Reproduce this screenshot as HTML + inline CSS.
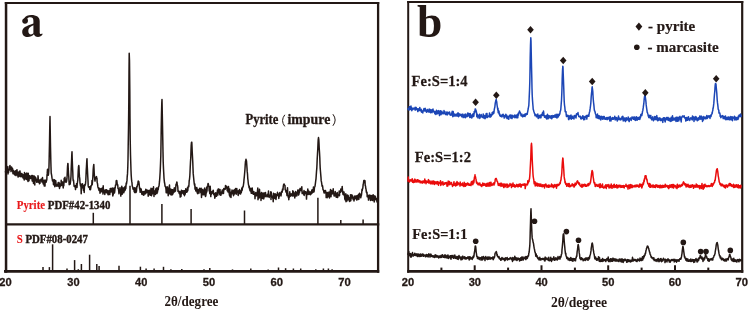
<!DOCTYPE html>
<html><head><meta charset="utf-8"><style>
html,body{margin:0;padding:0;background:#fff;width:748px;height:310px;overflow:hidden;}
svg{display:block;will-change:transform;}
</style></head><body>
<svg width="748" height="310" viewBox="0 0 748 310"><g stroke="#231815" fill="none" stroke-linecap="square"><path d="M6.05,2.1 V272.75" stroke-width="2.5" stroke-linecap="butt"/><path d="M4.8,3.1 H379.25" stroke-width="2.0" stroke-linecap="butt"/><path d="M378.1,2.1 V272.75" stroke-width="2.3" stroke-linecap="butt"/><path d="M4.0,271.4 H379.25" stroke-width="2.7" stroke-linecap="butt"/><line x1="6.3" y1="224.3" x2="378.2" y2="224.3" stroke-width="2.2"/><path d="M408.2,1 V272.7" stroke-width="2.0" stroke-linecap="butt"/><path d="M407.2,2.0 H743.3" stroke-width="2.0" stroke-linecap="butt"/><path d="M742.2,1 V272.7" stroke-width="2.2" stroke-linecap="butt"/><path d="M407.2,271.4 H743.3" stroke-width="2.6" stroke-linecap="butt"/></g><g stroke="#231815" stroke-width="2"><line x1="441.4" y1="267.6" x2="441.4" y2="271"/><line x1="474.7" y1="265.3" x2="474.7" y2="271"/><line x1="508.1" y1="267.6" x2="508.1" y2="271"/><line x1="541.5" y1="265.3" x2="541.5" y2="271"/><line x1="574.9" y1="267.6" x2="574.9" y2="271"/><line x1="608.2" y1="265.3" x2="608.2" y2="271"/><line x1="641.6" y1="267.6" x2="641.6" y2="271"/><line x1="675.0" y1="265.3" x2="675.0" y2="271"/><line x1="708.3" y1="267.6" x2="708.3" y2="271"/></g><g stroke="#231815" stroke-width="1.5"><line x1="93.3" y1="212.8" x2="93.3" y2="224"/><line x1="130.0" y1="185.7" x2="130.0" y2="224"/><line x1="161.9" y1="204.1" x2="161.9" y2="224"/><line x1="191.1" y1="209" x2="191.1" y2="224"/><line x1="244.5" y1="210.5" x2="244.5" y2="224"/><line x1="317.9" y1="197.7" x2="317.9" y2="224"/><line x1="340.8" y1="220" x2="340.8" y2="224"/><line x1="363.1" y1="219.4" x2="363.1" y2="224"/><line x1="43" y1="267.1" x2="43" y2="270.5"/><line x1="49.4" y1="267.1" x2="49.4" y2="270.5"/><line x1="52.6" y1="244.3" x2="52.6" y2="270.5"/><line x1="67" y1="268.4" x2="67" y2="270.5"/><line x1="74.6" y1="260.1" x2="74.6" y2="270.5"/><line x1="78.3" y1="269.2" x2="78.3" y2="270.5"/><line x1="81.4" y1="264" x2="81.4" y2="270.5"/><line x1="89.6" y1="254.7" x2="89.6" y2="270.5"/><line x1="96.8" y1="264" x2="96.8" y2="270.5"/><line x1="99.1" y1="266" x2="99.1" y2="270.5"/><line x1="119" y1="265.7" x2="119" y2="270.5"/><line x1="140.4" y1="266.7" x2="140.4" y2="270.5"/><line x1="146.1" y1="268.4" x2="146.1" y2="270.5"/><line x1="154.1" y1="268.4" x2="154.1" y2="270.5"/><line x1="163.5" y1="266.8" x2="163.5" y2="270.5"/><line x1="170.9" y1="269.2" x2="170.9" y2="270.5"/><line x1="181.8" y1="269" x2="181.8" y2="270.5"/><line x1="204" y1="269.2" x2="204" y2="270.5"/><line x1="209.8" y1="268" x2="209.8" y2="270.5"/><line x1="232.5" y1="269.4" x2="232.5" y2="270.5"/><line x1="250.8" y1="268.4" x2="250.8" y2="270.5"/><line x1="268.2" y1="269.4" x2="268.2" y2="270.5"/><line x1="278.5" y1="267.5" x2="278.5" y2="270.5"/><line x1="285.6" y1="268.2" x2="285.6" y2="270.5"/><line x1="293.4" y1="268.5" x2="293.4" y2="270.5"/><line x1="300.7" y1="268.5" x2="300.7" y2="270.5"/><line x1="315.8" y1="269.2" x2="315.8" y2="270.5"/><line x1="323.4" y1="268.5" x2="323.4" y2="270.5"/><line x1="328.4" y1="268.5" x2="328.4" y2="270.5"/><line x1="332.1" y1="269.3" x2="332.1" y2="270.5"/></g><polyline points="5.5,171.0 5.8,173.9 6.0,173.6 6.2,169.7 6.5,170.1 6.8,169.6 7.0,172.0 7.2,170.6 7.5,172.3 7.8,166.6 8.0,174.0 8.2,170.3 8.5,172.6 8.8,170.0 9.0,169.2 9.2,170.3 9.5,169.4 9.8,165.7 10.0,165.5 10.2,168.9 10.5,167.7 10.8,167.1 11.0,171.6 11.2,169.5 11.5,166.9 11.8,169.5 12.0,170.4 12.2,168.9 12.5,168.4 12.8,171.8 13.0,173.8 13.2,171.5 13.5,170.5 13.8,173.0 14.0,173.9 14.2,171.8 14.5,173.7 14.8,174.9 15.0,172.3 15.2,171.1 15.5,173.7 15.8,173.6 16.0,175.6 16.2,170.4 16.5,171.9 16.8,171.6 17.0,169.8 17.2,174.0 17.5,174.9 17.8,172.3 18.0,177.0 18.2,175.9 18.5,175.6 18.8,175.2 19.0,176.5 19.2,171.6 19.5,176.0 19.8,176.1 20.0,170.9 20.2,175.6 20.5,174.4 20.8,176.7 21.0,173.6 21.2,175.1 21.5,176.0 21.8,173.4 22.0,176.7 22.2,175.2 22.5,176.6 22.8,174.4 23.0,178.0 23.2,177.0 23.5,175.2 23.8,177.2 24.0,178.7 24.2,179.9 24.5,172.6 24.8,178.0 25.0,177.2 25.2,176.0 25.5,174.1 25.8,179.1 26.0,173.7 26.2,177.7 26.5,179.4 26.8,173.1 27.0,176.0 27.2,173.9 27.5,177.4 27.8,180.2 28.0,181.4 28.2,173.2 28.5,175.9 28.8,178.7 29.0,180.7 29.2,178.2 29.5,175.8 29.8,178.1 30.0,177.5 30.2,177.2 30.5,176.1 30.8,178.6 31.0,178.6 31.2,177.8 31.5,177.6 31.8,175.4 32.0,177.2 32.2,181.0 32.5,178.0 32.8,175.4 33.0,181.5 33.2,179.9 33.5,183.4 33.8,179.0 34.0,178.0 34.2,175.9 34.5,182.1 34.8,184.9 35.0,176.7 35.2,178.0 35.5,180.8 35.8,177.8 36.0,179.1 36.2,179.0 36.5,180.3 36.8,182.3 37.0,180.1 37.2,182.1 37.5,179.3 37.8,181.0 38.0,175.8 38.2,177.3 38.5,182.3 38.8,179.4 39.0,182.0 39.2,182.0 39.5,183.8 39.8,182.7 40.0,183.3 40.2,180.9 40.5,179.7 40.8,179.7 41.0,180.3 41.2,178.9 41.5,180.2 41.8,181.3 42.0,182.0 42.2,180.8 42.5,177.5 42.8,181.5 43.0,182.1 43.2,184.0 43.5,182.9 43.8,180.4 44.0,180.2 44.2,185.9 44.5,183.3 44.8,185.5 45.0,186.0 45.2,180.0 45.5,182.3 45.8,182.3 46.0,182.3 46.2,181.9 46.5,180.8 46.8,179.8 47.0,175.3 47.2,173.4 47.5,169.3 47.8,171.1 48.0,173.2 48.2,175.3 48.5,174.3 48.8,170.9 49.0,165.9 49.2,157.3 49.5,143.0 49.8,125.3 50.0,116.5 50.2,129.0 50.5,146.7 50.8,160.0 51.0,166.9 51.2,173.0 51.5,174.5 51.8,176.3 52.0,178.2 52.2,178.7 52.5,180.9 52.8,179.9 53.0,179.5 53.2,180.2 53.5,184.7 53.8,182.5 54.0,180.3 54.2,182.9 54.5,179.8 54.8,186.8 55.0,180.2 55.2,184.4 55.5,184.7 55.8,180.7 56.0,184.4 56.2,186.0 56.5,185.0 56.8,184.6 57.0,186.2 57.2,184.6 57.5,185.0 57.8,184.1 58.0,185.8 58.2,182.5 58.5,186.3 58.8,183.6 59.0,182.4 59.2,186.0 59.5,188.4 59.8,187.0 60.0,183.9 60.2,186.5 60.5,184.1 60.8,184.8 61.0,185.3 61.2,180.2 61.5,185.5 61.8,182.9 62.0,183.6 62.2,182.0 62.5,181.9 62.8,182.1 63.0,186.5 63.2,188.0 63.5,184.3 63.8,185.8 64.0,182.3 64.2,178.3 64.5,179.3 64.8,177.8 65.0,177.3 65.2,179.9 65.5,182.1 65.8,181.0 66.0,180.3 66.2,182.3 66.5,181.5 66.8,179.8 67.0,178.2 67.2,174.0 67.5,167.4 67.8,163.5 68.0,163.6 68.2,167.9 68.5,173.6 68.8,177.0 69.0,181.1 69.2,184.7 69.5,183.9 69.8,181.9 70.0,183.8 70.2,184.2 70.5,181.7 70.8,178.6 71.0,176.3 71.2,169.0 71.5,162.2 71.8,154.5 72.0,151.7 72.2,158.4 72.5,166.2 72.8,172.5 73.0,178.6 73.2,180.7 73.5,180.2 73.8,183.0 74.0,185.3 74.2,186.5 74.5,185.9 74.8,185.9 75.0,186.9 75.2,185.7 75.5,189.6 75.8,186.5 76.0,186.7 76.2,187.0 76.5,183.8 76.8,184.2 77.0,187.5 77.2,184.5 77.5,182.0 77.8,180.2 78.0,175.9 78.2,171.6 78.5,166.7 78.8,165.5 79.0,167.0 79.2,173.3 79.5,176.9 79.8,179.0 80.0,182.8 80.2,184.0 80.5,185.8 80.8,184.0 81.0,187.3 81.2,193.7 81.5,184.5 81.8,187.8 82.0,186.6 82.2,187.7 82.5,183.8 82.8,185.1 83.0,188.3 83.2,187.3 83.5,190.5 83.8,185.8 84.0,187.4 84.2,192.4 84.5,185.2 84.8,184.5 85.0,185.5 85.2,184.5 85.5,184.1 85.8,180.4 86.0,175.9 86.2,170.9 86.5,166.0 86.8,160.6 87.0,158.7 87.2,165.2 87.5,171.1 87.8,177.3 88.0,180.6 88.2,185.9 88.5,187.0 88.8,187.3 89.0,186.7 89.2,186.7 89.5,187.6 89.8,189.6 90.0,188.3 90.2,186.6 90.5,189.7 90.8,187.6 91.0,186.9 91.2,185.4 91.5,185.4 91.8,184.8 92.0,180.6 92.2,184.7 92.5,181.6 92.8,177.8 93.0,174.4 93.2,169.6 93.5,166.3 93.8,164.4 94.0,168.3 94.2,172.7 94.5,176.9 94.8,179.7 95.0,181.1 95.2,179.2 95.5,177.9 95.8,178.6 96.0,177.0 96.2,176.8 96.5,176.6 96.8,178.3 97.0,179.1 97.2,182.8 97.5,183.6 97.8,186.2 98.0,187.5 98.2,187.4 98.5,188.8 98.8,188.6 99.0,190.4 99.2,190.2 99.5,188.3 99.8,188.4 100.0,193.3 100.2,189.7 100.5,192.0 100.8,190.9 101.0,189.0 101.2,188.7 101.5,190.6 101.8,191.0 102.0,191.8 102.2,187.9 102.5,189.4 102.8,190.4 103.0,194.1 103.2,185.8 103.5,191.8 103.8,189.8 104.0,191.9 104.2,190.0 104.5,191.8 104.8,194.4 105.0,191.9 105.2,192.1 105.5,192.0 105.8,189.7 106.0,192.5 106.2,190.9 106.5,189.7 106.8,191.4 107.0,191.0 107.2,193.1 107.5,191.4 107.8,190.4 108.0,194.6 108.2,194.7 108.5,194.3 108.8,192.9 109.0,191.4 109.2,190.7 109.5,191.0 109.8,194.6 110.0,191.9 110.2,188.5 110.5,191.5 110.8,188.6 111.0,192.0 111.2,189.1 111.5,188.9 111.8,191.8 112.0,191.4 112.2,188.1 112.5,193.0 112.8,195.9 113.0,188.3 113.2,195.0 113.5,189.8 113.8,190.1 114.0,190.6 114.2,187.9 114.5,192.9 114.8,190.9 115.0,188.0 115.2,188.0 115.5,185.0 115.8,185.3 116.0,184.9 116.2,180.8 116.5,180.5 116.8,180.5 117.0,182.3 117.2,184.1 117.5,184.3 117.8,185.5 118.0,188.5 118.2,188.3 118.5,189.1 118.8,192.2 119.0,193.8 119.2,191.3 119.5,190.6 119.8,192.2 120.0,187.5 120.2,191.2 120.5,189.2 120.8,196.1 121.0,192.8 121.2,191.6 121.5,190.9 121.8,186.3 122.0,192.6 122.2,194.3 122.5,189.6 122.8,192.3 123.0,192.2 123.2,187.8 123.5,192.3 123.8,192.8 124.0,190.6 124.2,189.8 124.5,191.0 124.8,186.7 125.0,189.1 125.2,190.1 125.5,186.0 125.8,188.6 126.0,185.8 126.2,183.0 126.5,183.9 126.8,181.7 127.0,180.4 127.2,176.7 127.5,173.9 127.8,167.0 128.0,159.4 128.2,146.3 128.5,127.9 128.8,102.8 129.0,72.4 129.2,53.2 129.5,61.0 129.8,90.1 130.0,118.4 130.2,139.4 130.5,154.7 130.8,163.9 131.0,170.6 131.2,175.3 131.5,179.3 131.8,181.7 132.0,182.8 132.2,185.6 132.5,186.9 132.8,187.1 133.0,189.1 133.2,187.8 133.5,188.5 133.8,189.9 134.0,189.4 134.2,191.7 134.5,187.8 134.8,192.6 135.0,188.8 135.2,190.0 135.5,187.9 135.8,191.4 136.0,192.5 136.2,191.9 136.5,191.0 136.8,186.6 137.0,187.0 137.2,186.4 137.5,184.5 137.8,184.8 138.0,182.2 138.2,181.0 138.5,181.3 138.8,181.5 139.0,183.1 139.2,184.7 139.5,188.0 139.8,189.2 140.0,190.7 140.2,192.3 140.5,188.4 140.8,190.3 141.0,191.9 141.2,189.1 141.5,190.9 141.8,194.1 142.0,194.4 142.2,194.4 142.5,192.4 142.8,191.7 143.0,194.6 143.2,191.7 143.5,193.2 143.8,195.3 144.0,191.8 144.2,191.3 144.5,192.6 144.8,193.9 145.0,193.6 145.2,193.0 145.5,193.8 145.8,189.3 146.0,190.9 146.2,193.0 146.5,190.8 146.8,189.9 147.0,190.2 147.2,190.8 147.5,192.3 147.8,190.6 148.0,193.2 148.2,196.2 148.5,192.4 148.8,195.3 149.0,193.3 149.2,190.3 149.5,192.1 149.8,190.6 150.0,194.2 150.2,190.2 150.5,195.3 150.8,193.7 151.0,188.3 151.2,194.1 151.5,195.7 151.8,190.8 152.0,194.4 152.2,188.7 152.5,192.8 152.8,188.9 153.0,193.2 153.2,188.6 153.5,186.8 153.8,192.8 154.0,196.5 154.2,190.7 154.5,193.4 154.8,191.9 155.0,191.0 155.2,192.6 155.5,194.4 155.8,188.8 156.0,192.0 156.2,191.4 156.5,188.0 156.8,193.2 157.0,193.4 157.2,188.1 157.5,192.1 157.8,188.9 158.0,188.0 158.2,189.7 158.5,187.1 158.8,186.2 159.0,186.2 159.2,184.2 159.5,181.7 159.8,177.9 160.0,174.5 160.2,171.4 160.5,164.0 160.8,156.0 161.0,143.9 161.2,129.9 161.5,113.4 161.8,102.8 162.0,99.4 162.2,109.5 162.5,124.8 162.8,140.8 163.0,151.9 163.2,162.0 163.5,168.9 163.8,174.3 164.0,178.0 164.2,180.2 164.5,182.8 164.8,183.9 165.0,186.0 165.2,186.4 165.5,186.5 165.8,188.0 166.0,189.5 166.2,192.7 166.5,188.7 166.8,190.4 167.0,192.7 167.2,186.7 167.5,187.5 167.8,188.7 168.0,190.8 168.2,195.8 168.5,192.1 168.8,193.8 169.0,191.1 169.2,186.9 169.5,185.0 169.8,193.8 170.0,192.2 170.2,189.4 170.5,194.2 170.8,189.0 171.0,194.3 171.2,195.0 171.5,190.6 171.8,189.9 172.0,193.8 172.2,190.0 172.5,194.7 172.8,189.7 173.0,193.7 173.2,192.2 173.5,191.1 173.8,190.1 174.0,192.2 174.2,188.0 174.5,190.8 174.8,190.2 175.0,191.5 175.2,187.5 175.5,191.0 175.8,186.7 176.0,184.2 176.2,184.9 176.5,183.6 176.8,182.1 177.0,182.3 177.2,184.5 177.5,185.4 177.8,187.3 178.0,191.4 178.2,190.7 178.5,191.0 178.8,191.9 179.0,191.5 179.2,193.4 179.5,193.7 179.8,191.4 180.0,192.4 180.2,197.1 180.5,193.1 180.8,192.0 181.0,196.5 181.2,192.4 181.5,190.2 181.8,193.7 182.0,190.6 182.2,191.4 182.5,193.0 182.8,192.1 183.0,190.8 183.2,191.2 183.5,191.0 183.8,194.4 184.0,190.7 184.2,190.9 184.5,195.8 184.8,190.7 185.0,194.5 185.2,194.0 185.5,191.1 185.8,188.7 186.0,191.9 186.2,192.0 186.5,192.3 186.8,190.4 187.0,192.0 187.2,191.8 187.5,187.5 187.8,190.7 188.0,188.2 188.2,186.5 188.5,185.9 188.8,186.8 189.0,184.2 189.2,180.6 189.5,179.3 189.8,176.2 190.0,172.5 190.2,167.8 190.5,161.9 190.8,157.2 191.0,150.2 191.2,145.3 191.5,142.2 191.8,142.3 192.0,146.4 192.2,151.5 192.5,157.0 192.8,162.8 193.0,168.2 193.2,173.4 193.5,176.5 193.8,179.5 194.0,181.5 194.2,183.3 194.5,185.1 194.8,184.0 195.0,189.1 195.2,186.7 195.5,187.6 195.8,191.0 196.0,189.8 196.2,189.9 196.5,189.1 196.8,187.6 197.0,191.0 197.2,193.0 197.5,189.4 197.8,193.7 198.0,189.2 198.2,190.1 198.5,192.6 198.8,191.7 199.0,193.1 199.2,190.4 199.5,189.9 199.8,188.2 200.0,189.6 200.2,189.9 200.5,189.2 200.8,192.8 201.0,190.9 201.2,188.2 201.5,197.4 201.8,190.6 202.0,189.7 202.2,194.9 202.5,194.7 202.8,190.0 203.0,189.3 203.2,190.3 203.5,194.7 203.8,191.7 204.0,190.7 204.2,192.3 204.5,194.8 204.8,187.9 205.0,191.4 205.2,189.3 205.5,196.6 205.8,195.7 206.0,193.8 206.2,191.5 206.5,192.8 206.8,187.1 207.0,191.1 207.2,187.3 207.5,186.1 207.8,185.2 208.0,183.6 208.2,183.5 208.5,185.0 208.8,186.9 209.0,187.0 209.2,191.0 209.5,190.5 209.8,193.6 210.0,189.8 210.2,186.2 210.5,191.0 210.8,196.6 211.0,193.2 211.2,191.9 211.5,194.2 211.8,193.4 212.0,193.4 212.2,191.4 212.5,192.6 212.8,192.9 213.0,191.2 213.2,190.2 213.5,192.9 213.8,194.7 214.0,194.0 214.2,193.7 214.5,193.7 214.8,198.2 215.0,193.2 215.2,194.9 215.5,196.8 215.8,192.8 216.0,193.3 216.2,194.9 216.5,196.3 216.8,193.4 217.0,193.5 217.2,192.9 217.5,190.1 217.8,195.1 218.0,192.2 218.2,189.0 218.5,192.4 218.8,189.0 219.0,190.5 219.2,192.7 219.5,190.7 219.8,194.8 220.0,189.4 220.2,193.0 220.5,193.5 220.8,195.3 221.0,194.1 221.2,192.5 221.5,192.1 221.8,191.6 222.0,193.8 222.2,190.0 222.5,192.0 222.8,190.6 223.0,190.9 223.2,189.7 223.5,193.5 223.8,188.4 224.0,189.6 224.2,189.3 224.5,189.5 224.8,188.9 225.0,188.7 225.2,189.2 225.5,185.6 225.8,187.7 226.0,185.9 226.2,188.1 226.5,186.2 226.8,186.7 227.0,188.3 227.2,190.8 227.5,189.9 227.8,189.8 228.0,192.0 228.2,188.3 228.5,186.6 228.8,189.8 229.0,190.4 229.2,193.5 229.5,195.5 229.8,189.1 230.0,196.7 230.2,195.2 230.5,193.9 230.8,193.1 231.0,197.4 231.2,192.7 231.5,191.7 231.8,193.0 232.0,189.9 232.2,193.8 232.5,192.6 232.8,193.6 233.0,193.7 233.2,190.7 233.5,195.7 233.8,190.9 234.0,194.8 234.2,189.7 234.5,193.7 234.8,191.3 235.0,193.1 235.2,191.6 235.5,188.5 235.8,190.7 236.0,193.1 236.2,194.2 236.5,189.9 236.8,188.5 237.0,191.0 237.2,192.3 237.5,191.5 237.8,191.1 238.0,194.3 238.2,195.4 238.5,193.9 238.8,190.6 239.0,192.5 239.2,191.8 239.5,189.4 239.8,193.6 240.0,192.0 240.2,190.7 240.5,194.0 240.8,192.6 241.0,192.4 241.2,192.7 241.5,191.5 241.8,187.9 242.0,188.8 242.2,190.2 242.5,187.1 242.8,187.3 243.0,186.7 243.2,186.3 243.5,184.5 243.8,182.3 244.0,179.6 244.2,177.8 244.5,174.8 244.8,171.3 245.0,168.8 245.2,165.1 245.5,161.3 245.8,160.7 246.0,159.2 246.2,160.5 246.5,161.0 246.8,165.2 247.0,168.1 247.2,171.4 247.5,174.0 247.8,179.0 248.0,180.2 248.2,182.5 248.5,184.9 248.8,185.5 249.0,187.4 249.2,186.2 249.5,189.0 249.8,188.8 250.0,190.8 250.2,190.9 250.5,188.7 250.8,188.3 251.0,190.0 251.2,193.3 251.5,193.1 251.8,193.3 252.0,189.0 252.2,187.9 252.5,191.3 252.8,192.6 253.0,192.2 253.2,194.2 253.5,193.3 253.8,191.4 254.0,192.1 254.2,194.2 254.5,194.2 254.8,194.0 255.0,198.8 255.2,193.7 255.5,194.6 255.8,192.4 256.0,193.7 256.2,195.6 256.5,195.8 256.8,194.3 257.0,195.5 257.2,194.9 257.5,190.9 257.8,188.0 258.0,199.7 258.2,196.7 258.5,194.8 258.8,191.3 259.0,192.3 259.2,197.9 259.5,189.2 259.8,194.5 260.0,197.0 260.2,195.5 260.5,196.9 260.8,195.0 261.0,200.4 261.2,193.2 261.5,192.5 261.8,196.0 262.0,198.5 262.2,195.3 262.5,197.7 262.8,194.4 263.0,193.0 263.2,198.5 263.5,198.9 263.8,198.8 264.0,194.6 264.2,193.1 264.5,193.1 264.8,195.1 265.0,196.8 265.2,196.7 265.5,192.5 265.8,196.0 266.0,195.6 266.2,195.8 266.5,195.5 266.8,195.1 267.0,196.8 267.2,195.8 267.5,196.0 267.8,194.1 268.0,196.4 268.2,195.3 268.5,191.0 268.8,196.6 269.0,195.0 269.2,197.5 269.5,195.2 269.8,195.3 270.0,196.0 270.2,195.5 270.5,194.6 270.8,191.7 271.0,199.5 271.2,192.1 271.5,194.8 271.8,196.9 272.0,196.3 272.2,196.7 272.5,197.1 272.8,198.2 273.0,196.1 273.2,201.7 273.5,193.3 273.8,195.9 274.0,194.6 274.2,194.2 274.5,196.0 274.8,198.5 275.0,193.8 275.2,193.8 275.5,196.9 275.8,196.5 276.0,199.5 276.2,197.5 276.5,195.8 276.8,194.2 277.0,195.7 277.2,194.8 277.5,192.3 277.8,195.2 278.0,194.7 278.2,194.6 278.5,194.1 278.8,198.5 279.0,196.4 279.2,196.8 279.5,193.6 279.8,192.6 280.0,194.1 280.2,195.1 280.5,193.7 280.8,193.9 281.0,196.0 281.2,194.4 281.5,191.6 281.8,192.3 282.0,191.3 282.2,192.1 282.5,189.1 282.8,189.6 283.0,189.9 283.2,187.2 283.5,185.0 283.8,184.2 284.0,184.0 284.2,184.1 284.5,184.9 284.8,185.3 285.0,185.5 285.2,189.8 285.5,189.8 285.8,191.2 286.0,192.0 286.2,190.4 286.5,192.2 286.8,193.7 287.0,195.6 287.2,194.0 287.5,187.8 287.8,193.7 288.0,195.0 288.2,197.1 288.5,195.9 288.8,199.7 289.0,197.6 289.2,197.4 289.5,196.6 289.8,191.8 290.0,196.5 290.2,196.0 290.5,193.7 290.8,196.0 291.0,195.7 291.2,193.8 291.5,194.6 291.8,194.3 292.0,195.3 292.2,193.9 292.5,196.0 292.8,190.8 293.0,194.2 293.2,191.3 293.5,193.8 293.8,195.9 294.0,194.8 294.2,194.6 294.5,194.9 294.8,198.0 295.0,192.4 295.2,196.5 295.5,191.5 295.8,193.6 296.0,194.9 296.2,192.8 296.5,195.1 296.8,195.9 297.0,191.9 297.2,194.0 297.5,193.2 297.8,190.0 298.0,193.1 298.2,191.7 298.5,195.1 298.8,190.6 299.0,194.2 299.2,189.8 299.5,192.5 299.8,189.6 300.0,188.6 300.2,188.4 300.5,188.4 300.8,189.4 301.0,190.6 301.2,188.6 301.5,188.3 301.8,186.8 302.0,191.1 302.2,193.6 302.5,193.5 302.8,193.4 303.0,192.8 303.2,192.4 303.5,193.3 303.8,194.7 304.0,190.5 304.2,195.5 304.5,191.2 304.8,193.8 305.0,192.9 305.2,193.4 305.5,192.1 305.8,191.8 306.0,193.7 306.2,192.0 306.5,199.1 306.8,193.3 307.0,192.8 307.2,192.9 307.5,191.9 307.8,189.1 308.0,193.4 308.2,194.5 308.5,190.8 308.8,193.8 309.0,191.3 309.2,193.5 309.5,194.2 309.8,194.4 310.0,194.1 310.2,191.9 310.5,194.7 310.8,192.1 311.0,193.5 311.2,194.0 311.5,192.0 311.8,190.1 312.0,193.2 312.2,190.0 312.5,190.2 312.8,189.6 313.0,192.3 313.2,190.4 313.5,186.9 313.8,190.7 314.0,191.8 314.2,190.6 314.5,187.0 314.8,186.8 315.0,186.2 315.2,184.8 315.5,182.7 315.8,180.1 316.0,178.8 316.2,176.0 316.5,171.6 316.8,168.3 317.0,164.1 317.2,159.0 317.5,153.9 317.8,148.6 318.0,143.6 318.2,139.8 318.5,137.6 318.8,139.6 319.0,143.1 319.2,148.0 319.5,152.2 319.8,157.7 320.0,163.7 320.2,168.3 320.5,171.8 320.8,175.4 321.0,177.6 321.2,180.9 321.5,182.0 321.8,184.1 322.0,185.5 322.2,186.4 322.5,185.6 322.8,187.7 323.0,189.8 323.2,189.9 323.5,190.0 323.8,191.7 324.0,192.5 324.2,193.1 324.5,190.8 324.8,192.4 325.0,192.1 325.2,191.4 325.5,190.5 325.8,193.1 326.0,191.9 326.2,197.6 326.5,193.6 326.8,193.5 327.0,193.3 327.2,197.7 327.5,192.4 327.8,194.0 328.0,192.9 328.2,194.2 328.5,194.5 328.8,196.8 329.0,191.9 329.2,194.7 329.5,197.9 329.8,193.7 330.0,194.4 330.2,193.0 330.5,189.6 330.8,194.4 331.0,196.8 331.2,193.4 331.5,190.6 331.8,194.1 332.0,193.2 332.2,194.0 332.5,193.1 332.8,190.7 333.0,191.8 333.2,188.7 333.5,193.7 333.8,193.1 334.0,195.5 334.2,196.1 334.5,194.1 334.8,194.8 335.0,193.6 335.2,191.4 335.5,195.4 335.8,196.1 336.0,193.6 336.2,197.3 336.5,196.1 336.8,196.9 337.0,194.4 337.2,192.4 337.5,197.5 337.8,197.1 338.0,195.6 338.2,194.9 338.5,195.0 338.8,195.1 339.0,194.1 339.2,191.1 339.5,195.7 339.8,191.4 340.0,192.5 340.2,192.1 340.5,192.2 340.8,189.1 341.0,191.7 341.2,190.4 341.5,190.0 341.8,190.3 342.0,188.4 342.2,186.4 342.5,190.7 342.8,192.8 343.0,194.4 343.2,191.7 343.5,193.5 343.8,194.9 344.0,191.9 344.2,194.3 344.5,194.8 344.8,199.3 345.0,195.3 345.2,199.9 345.5,197.0 345.8,193.8 346.0,201.8 346.2,195.4 346.5,198.8 346.8,201.1 347.0,196.5 347.2,195.1 347.5,199.9 347.8,197.9 348.0,195.3 348.2,195.6 348.5,197.1 348.8,200.0 349.0,197.4 349.2,199.4 349.5,201.5 349.8,200.7 350.0,201.1 350.2,200.7 350.5,194.7 350.8,200.7 351.0,198.8 351.2,197.7 351.5,195.8 351.8,194.8 352.0,195.8 352.2,198.1 352.5,195.7 352.8,196.4 353.0,196.9 353.2,199.6 353.5,197.6 353.8,197.9 354.0,201.0 354.2,197.5 354.5,199.4 354.8,195.9 355.0,198.8 355.2,198.4 355.5,198.5 355.8,197.1 356.0,195.9 356.2,197.4 356.5,197.0 356.8,200.1 357.0,199.8 357.2,195.4 357.5,199.1 357.8,196.8 358.0,198.7 358.2,196.7 358.5,194.6 358.8,199.4 359.0,198.2 359.2,194.7 359.5,193.3 359.8,195.7 360.0,194.3 360.2,195.5 360.5,196.9 360.8,197.8 361.0,194.1 361.2,196.1 361.5,194.8 361.8,191.7 362.0,189.2 362.2,190.7 362.5,188.9 362.8,188.2 363.0,186.1 363.2,184.1 363.5,183.2 363.8,180.6 364.0,180.6 364.2,180.3 364.5,181.9 364.8,182.2 365.0,180.7 365.2,185.5 365.5,185.9 365.8,188.5 366.0,188.9 366.2,191.0 366.5,192.6 366.8,193.1 367.0,192.3 367.2,196.7 367.5,195.7 367.8,195.5 368.0,197.2 368.2,195.3 368.5,200.1 368.8,197.2 369.0,197.7 369.2,197.8 369.5,195.4 369.8,195.0 370.0,197.9 370.2,198.3 370.5,200.4 370.8,198.6 371.0,195.5 371.2,198.9 371.5,199.6 371.8,200.0 372.0,198.6 372.2,195.4 372.5,200.4 372.8,196.5 373.0,199.3 373.2,194.7 373.5,199.7 373.8,196.4 374.0,200.4 374.2,201.9 374.5,200.6 374.8,195.7 375.0,196.2 375.2,196.3 375.5,199.6 375.8,199.3 376.0,198.5 376.2,198.9 376.5,199.5 376.8,200.3 377.0,201.9 377.2,198.1 377.5,198.7 377.8,194.2 378.0,195.4 378.2,196.7" fill="none" stroke="#231815" stroke-width="1.5" stroke-linejoin="round"/><polyline points="408.0,108.0 408.2,109.3 408.5,108.9 408.8,109.0 409.0,110.1 409.2,106.7 409.5,107.5 409.8,106.7 410.0,108.2 410.2,109.5 410.5,108.3 410.8,109.0 411.0,106.1 411.2,108.6 411.5,107.4 411.8,110.7 412.0,109.6 412.2,109.8 412.5,108.6 412.8,109.4 413.0,109.5 413.2,108.4 413.5,108.2 413.8,108.7 414.0,108.2 414.2,108.2 414.5,108.6 414.8,108.1 415.0,110.0 415.2,107.2 415.5,110.1 415.8,108.4 416.0,108.5 416.2,107.6 416.5,109.1 416.8,109.0 417.0,109.6 417.2,108.7 417.5,109.5 417.8,111.6 418.0,110.0 418.2,108.8 418.5,110.7 418.8,109.4 419.0,110.3 419.2,110.4 419.5,109.2 419.8,107.4 420.0,109.4 420.2,110.5 420.5,109.4 420.8,110.4 421.0,111.1 421.2,109.3 421.5,112.2 421.8,112.0 422.0,111.4 422.2,111.5 422.5,111.5 422.8,112.9 423.0,110.4 423.2,110.2 423.5,111.0 423.8,109.2 424.0,108.5 424.2,109.3 424.5,110.9 424.8,111.0 425.0,108.6 425.2,108.3 425.5,110.2 425.8,110.4 426.0,110.6 426.2,111.5 426.5,112.2 426.8,111.0 427.0,111.5 427.2,109.5 427.5,109.4 427.8,111.2 428.0,111.7 428.2,111.8 428.5,111.7 428.8,112.0 429.0,112.0 429.2,109.0 429.5,110.2 429.8,111.7 430.0,111.9 430.2,109.4 430.5,112.7 430.8,110.8 431.0,111.0 431.2,111.7 431.5,112.3 431.8,109.7 432.0,112.7 432.2,111.6 432.5,110.6 432.8,111.2 433.0,109.0 433.2,110.9 433.5,111.9 433.8,110.9 434.0,111.4 434.2,111.6 434.5,111.9 434.8,113.7 435.0,111.9 435.2,111.6 435.5,112.6 435.8,114.5 436.0,111.6 436.2,112.7 436.5,110.2 436.8,113.7 437.0,113.0 437.2,113.8 437.5,112.2 437.8,111.0 438.0,113.4 438.2,113.2 438.5,111.3 438.8,110.6 439.0,113.0 439.2,112.3 439.5,115.6 439.8,111.8 440.0,111.9 440.2,112.5 440.5,110.7 440.8,111.6 441.0,114.7 441.2,112.6 441.5,112.1 441.8,111.3 442.0,113.5 442.2,113.7 442.5,113.2 442.8,112.5 443.0,113.3 443.2,113.5 443.5,112.2 443.8,113.8 444.0,110.6 444.2,111.6 444.5,112.8 444.8,113.0 445.0,111.8 445.2,113.6 445.5,114.5 445.8,113.9 446.0,113.6 446.2,114.4 446.5,113.9 446.8,112.1 447.0,113.2 447.2,115.0 447.5,112.2 447.8,113.6 448.0,113.1 448.2,112.5 448.5,112.4 448.8,113.8 449.0,114.1 449.2,114.1 449.5,112.0 449.8,113.5 450.0,114.2 450.2,115.0 450.5,114.7 450.8,114.9 451.0,115.3 451.2,115.0 451.5,113.0 451.8,114.1 452.0,113.2 452.2,111.3 452.5,112.1 452.8,116.7 453.0,112.9 453.2,111.6 453.5,113.6 453.8,116.1 454.0,114.3 454.2,114.8 454.5,114.1 454.8,114.3 455.0,116.0 455.2,115.4 455.5,114.4 455.8,115.6 456.0,115.9 456.2,114.3 456.5,115.0 456.8,115.0 457.0,113.9 457.2,116.1 457.5,114.6 457.8,114.0 458.0,112.8 458.2,113.3 458.5,116.7 458.8,113.5 459.0,115.4 459.2,114.5 459.5,115.6 459.8,115.7 460.0,114.1 460.2,114.7 460.5,115.2 460.8,115.3 461.0,115.1 461.2,114.8 461.5,116.0 461.8,116.8 462.0,115.9 462.2,114.0 462.5,115.8 462.8,115.4 463.0,115.9 463.2,117.6 463.5,115.1 463.8,115.4 464.0,114.3 464.2,115.1 464.5,114.8 464.8,117.4 465.0,115.8 465.2,114.8 465.5,117.8 465.8,113.9 466.0,116.6 466.2,116.8 466.5,116.2 466.8,115.3 467.0,115.4 467.2,115.2 467.5,116.5 467.8,112.9 468.0,115.0 468.2,115.8 468.5,115.0 468.8,113.5 469.0,115.4 469.2,114.8 469.5,116.6 469.8,117.4 470.0,115.8 470.2,113.4 470.5,115.5 470.8,114.6 471.0,116.5 471.2,117.7 471.5,116.0 471.8,118.0 472.0,117.4 472.2,116.4 472.5,114.5 472.8,115.7 473.0,113.8 473.2,116.5 473.5,115.2 473.8,116.2 474.0,114.5 474.2,111.5 474.5,113.1 474.8,112.2 475.0,111.6 475.2,109.0 475.5,108.9 475.8,110.2 476.0,110.3 476.2,111.1 476.5,112.2 476.8,116.7 477.0,114.0 477.2,114.0 477.5,114.9 477.8,115.6 478.0,118.0 478.2,116.9 478.5,116.8 478.8,116.0 479.0,116.2 479.2,115.3 479.5,114.3 479.8,118.5 480.0,115.6 480.2,117.4 480.5,115.8 480.8,116.1 481.0,116.0 481.2,114.6 481.5,116.1 481.8,116.7 482.0,117.2 482.2,116.8 482.5,117.5 482.8,116.6 483.0,116.3 483.2,114.0 483.5,115.6 483.8,118.1 484.0,116.4 484.2,117.2 484.5,116.0 484.8,115.5 485.0,118.7 485.2,116.7 485.5,118.0 485.8,116.9 486.0,115.9 486.2,113.6 486.5,116.3 486.8,114.4 487.0,113.6 487.2,117.6 487.5,117.0 487.8,116.9 488.0,116.2 488.2,116.0 488.5,116.5 488.8,116.2 489.0,116.1 489.2,116.8 489.5,113.1 489.8,116.9 490.0,115.1 490.2,116.7 490.5,117.0 490.8,114.6 491.0,116.4 491.2,116.2 491.5,114.5 491.8,114.5 492.0,115.0 492.2,112.4 492.5,114.0 492.8,114.3 493.0,113.3 493.2,111.8 493.5,112.4 493.8,113.3 494.0,112.2 494.2,110.0 494.5,108.3 494.8,107.3 495.0,105.6 495.2,103.6 495.5,102.0 495.8,100.9 496.0,100.3 496.2,99.3 496.5,101.3 496.8,102.5 497.0,104.6 497.2,106.0 497.5,107.9 497.8,110.2 498.0,108.3 498.2,112.7 498.5,112.4 498.8,111.3 499.0,111.0 499.2,114.3 499.5,113.3 499.8,115.7 500.0,115.1 500.2,114.9 500.5,116.3 500.8,115.6 501.0,116.3 501.2,116.6 501.5,116.1 501.8,116.7 502.0,116.8 502.2,114.4 502.5,115.7 502.8,115.9 503.0,115.7 503.2,114.3 503.5,115.6 503.8,116.6 504.0,116.5 504.2,118.1 504.5,115.6 504.8,115.9 505.0,115.7 505.2,116.1 505.5,115.7 505.8,114.3 506.0,116.9 506.2,117.6 506.5,117.8 506.8,115.3 507.0,116.3 507.2,118.7 507.5,116.4 507.8,117.0 508.0,116.4 508.2,117.8 508.5,117.7 508.8,119.3 509.0,117.2 509.2,117.2 509.5,115.2 509.8,116.2 510.0,115.8 510.2,116.3 510.5,115.1 510.8,118.1 511.0,115.4 511.2,117.0 511.5,115.2 511.8,117.1 512.0,118.6 512.2,115.2 512.5,117.1 512.8,116.6 513.0,117.0 513.2,117.1 513.5,115.9 513.8,116.3 514.0,115.9 514.2,115.6 514.5,115.1 514.8,117.7 515.0,115.7 515.2,117.3 515.5,117.1 515.8,115.3 516.0,117.6 516.2,115.3 516.5,117.0 516.8,117.8 517.0,115.2 517.2,114.8 517.5,114.6 517.8,117.8 518.0,114.6 518.2,113.3 518.5,115.0 518.8,113.6 519.0,113.3 519.2,112.1 519.5,111.0 519.8,112.4 520.0,112.4 520.2,112.2 520.5,113.1 520.8,113.6 521.0,115.8 521.2,115.9 521.5,116.0 521.8,115.0 522.0,114.3 522.2,116.1 522.5,116.3 522.8,116.9 523.0,115.8 523.2,115.7 523.5,116.1 523.8,114.7 524.0,114.8 524.2,116.3 524.5,114.2 524.8,115.3 525.0,116.5 525.2,115.4 525.5,115.4 525.8,113.7 526.0,114.5 526.2,114.1 526.5,114.6 526.8,114.1 527.0,113.3 527.2,114.3 527.5,112.5 527.8,111.1 528.0,109.9 528.2,109.0 528.5,107.1 528.8,105.6 529.0,102.0 529.2,97.3 529.5,90.8 529.8,82.0 530.0,70.9 530.2,57.9 530.5,44.9 530.8,37.7 531.0,40.8 531.2,51.3 531.5,65.8 531.8,77.9 532.0,88.2 532.2,95.0 532.5,100.1 532.8,104.0 533.0,106.3 533.2,109.2 533.5,110.1 533.8,111.3 534.0,112.2 534.2,112.3 534.5,113.6 534.8,113.8 535.0,115.7 535.2,114.4 535.5,115.0 535.8,114.5 536.0,114.8 536.2,115.0 536.5,116.8 536.8,115.7 537.0,116.8 537.2,115.6 537.5,115.6 537.8,114.0 538.0,117.0 538.2,118.5 538.5,116.0 538.8,117.9 539.0,117.3 539.2,115.6 539.5,117.2 539.8,115.4 540.0,116.0 540.2,117.7 540.5,116.5 540.8,115.0 541.0,117.7 541.2,114.8 541.5,115.6 541.8,115.2 542.0,115.0 542.2,114.0 542.5,112.8 542.8,115.6 543.0,112.6 543.2,112.4 543.5,111.0 543.8,113.3 544.0,114.7 544.2,115.4 544.5,117.2 544.8,116.5 545.0,115.9 545.2,115.9 545.5,117.7 545.8,116.3 546.0,116.8 546.2,115.6 546.5,116.9 546.8,119.1 547.0,116.8 547.2,117.4 547.5,114.3 547.8,118.6 548.0,117.5 548.2,118.7 548.5,117.4 548.8,116.2 549.0,115.6 549.2,117.7 549.5,117.1 549.8,116.1 550.0,117.1 550.2,116.4 550.5,118.0 550.8,116.7 551.0,115.8 551.2,117.1 551.5,116.5 551.8,118.8 552.0,116.6 552.2,115.6 552.5,117.0 552.8,116.8 553.0,117.4 553.2,117.3 553.5,115.8 553.8,116.9 554.0,116.9 554.2,115.6 554.5,116.3 554.8,117.1 555.0,115.1 555.2,115.6 555.5,116.2 555.8,116.6 556.0,117.2 556.2,114.3 556.5,116.8 556.8,117.1 557.0,118.0 557.2,115.8 557.5,115.1 557.8,114.3 558.0,116.4 558.2,117.0 558.5,114.7 558.8,115.6 559.0,115.7 559.2,115.4 559.5,113.7 559.8,114.1 560.0,112.8 560.2,111.2 560.5,110.9 560.8,109.3 561.0,106.6 561.2,104.0 561.5,100.3 561.8,93.6 562.0,87.2 562.2,79.0 562.5,70.9 562.8,66.3 563.0,67.0 563.2,73.5 563.5,81.1 563.8,89.3 564.0,95.4 564.2,101.2 564.5,105.1 564.8,107.0 565.0,109.3 565.2,111.6 565.5,112.0 565.8,112.2 566.0,111.6 566.2,114.7 566.5,116.6 566.8,114.7 567.0,115.9 567.2,116.1 567.5,115.8 567.8,116.2 568.0,116.4 568.2,115.5 568.5,119.2 568.8,119.6 569.0,117.1 569.2,118.8 569.5,116.0 569.8,116.7 570.0,118.3 570.2,115.8 570.5,115.7 570.8,117.5 571.0,115.0 571.2,119.2 571.5,118.1 571.8,117.6 572.0,118.1 572.2,116.3 572.5,116.3 572.8,118.3 573.0,118.5 573.2,117.6 573.5,117.3 573.8,116.8 574.0,118.9 574.2,115.6 574.5,116.3 574.8,116.6 575.0,115.4 575.2,115.5 575.5,115.6 575.8,117.5 576.0,118.0 576.2,116.1 576.5,113.8 576.8,114.0 577.0,114.3 577.2,113.9 577.5,113.7 577.8,114.5 578.0,112.6 578.2,114.3 578.5,115.5 578.8,116.5 579.0,116.4 579.2,116.5 579.5,116.6 579.8,116.2 580.0,117.2 580.2,117.0 580.5,116.5 580.8,118.8 581.0,118.8 581.2,117.1 581.5,118.2 581.8,118.9 582.0,117.8 582.2,117.7 582.5,118.1 582.8,115.7 583.0,115.9 583.2,118.1 583.5,117.8 583.8,119.8 584.0,116.9 584.2,118.6 584.5,118.5 584.8,119.5 585.0,116.4 585.2,116.8 585.5,117.4 585.8,117.3 586.0,115.9 586.2,116.3 586.5,115.4 586.8,119.1 587.0,116.4 587.2,116.3 587.5,115.5 587.8,115.9 588.0,116.4 588.2,115.0 588.5,114.9 588.8,116.3 589.0,114.6 589.2,113.3 589.5,112.0 589.8,111.2 590.0,109.4 590.2,108.2 590.5,105.8 590.8,103.3 591.0,100.4 591.2,96.8 591.5,93.6 591.8,91.1 592.0,87.9 592.2,86.8 592.5,89.1 592.8,91.5 593.0,95.5 593.2,98.6 593.5,102.0 593.8,104.4 594.0,106.4 594.2,108.8 594.5,110.8 594.8,111.1 595.0,111.5 595.2,113.0 595.5,113.8 595.8,114.4 596.0,115.1 596.2,117.8 596.5,115.8 596.8,115.6 597.0,115.2 597.2,117.3 597.5,114.1 597.8,118.3 598.0,116.9 598.2,115.4 598.5,117.4 598.8,117.1 599.0,118.7 599.2,115.8 599.5,117.7 599.8,117.6 600.0,118.7 600.2,116.4 600.5,116.9 600.8,120.0 601.0,118.5 601.2,116.2 601.5,118.3 601.8,117.0 602.0,117.2 602.2,116.6 602.5,119.2 602.8,117.4 603.0,118.3 603.2,118.2 603.5,116.4 603.8,117.3 604.0,119.1 604.2,116.4 604.5,118.5 604.8,118.1 605.0,119.0 605.2,119.1 605.5,119.2 605.8,118.4 606.0,118.6 606.2,117.5 606.5,117.7 606.8,119.4 607.0,117.7 607.2,119.6 607.5,119.6 607.8,117.5 608.0,119.1 608.2,117.5 608.5,118.8 608.8,117.5 609.0,118.8 609.2,118.7 609.5,117.2 609.8,120.9 610.0,120.2 610.2,116.6 610.5,118.9 610.8,118.0 611.0,120.9 611.2,118.5 611.5,119.0 611.8,118.3 612.0,119.3 612.2,117.9 612.5,117.5 612.8,118.0 613.0,118.1 613.2,119.3 613.5,118.7 613.8,118.1 614.0,118.1 614.2,117.5 614.5,118.8 614.8,116.2 615.0,118.4 615.2,120.0 615.5,118.2 615.8,117.9 616.0,118.7 616.2,117.6 616.5,117.8 616.8,119.5 617.0,117.9 617.2,121.0 617.5,119.3 617.8,118.6 618.0,117.9 618.2,118.4 618.5,116.0 618.8,119.0 619.0,119.7 619.2,119.4 619.5,118.2 619.8,119.4 620.0,119.5 620.2,118.6 620.5,119.1 620.8,119.9 621.0,119.3 621.2,118.3 621.5,118.7 621.8,118.9 622.0,116.8 622.2,118.9 622.5,118.6 622.8,116.2 623.0,116.7 623.2,120.9 623.5,118.9 623.8,120.3 624.0,118.3 624.2,120.6 624.5,119.4 624.8,117.9 625.0,119.1 625.2,120.6 625.5,121.6 625.8,119.4 626.0,118.2 626.2,117.7 626.5,119.6 626.8,120.1 627.0,118.9 627.2,118.6 627.5,119.7 627.8,119.3 628.0,119.2 628.2,117.0 628.5,118.4 628.8,121.0 629.0,118.7 629.2,121.6 629.5,119.2 629.8,118.4 630.0,119.1 630.2,119.5 630.5,117.9 630.8,119.0 631.0,118.2 631.2,120.4 631.5,118.2 631.8,118.8 632.0,116.9 632.2,117.1 632.5,118.6 632.8,117.6 633.0,118.1 633.2,118.9 633.5,119.3 633.8,117.0 634.0,118.4 634.2,119.3 634.5,117.8 634.8,117.0 635.0,117.7 635.2,120.4 635.5,118.5 635.8,120.2 636.0,118.1 636.2,119.7 636.5,116.7 636.8,118.0 637.0,118.4 637.2,120.2 637.5,118.7 637.8,119.3 638.0,117.6 638.2,117.5 638.5,119.3 638.8,119.3 639.0,119.0 639.2,118.8 639.5,116.9 639.8,119.5 640.0,117.3 640.2,118.2 640.5,117.4 640.8,114.7 641.0,114.2 641.2,114.2 641.5,115.2 641.8,115.7 642.0,113.8 642.2,113.8 642.5,111.4 642.8,110.7 643.0,109.2 643.2,107.9 643.5,105.6 643.8,103.7 644.0,101.5 644.2,98.9 644.5,96.8 644.8,95.7 645.0,95.2 645.2,96.1 645.5,98.4 645.8,100.5 646.0,102.3 646.2,104.9 646.5,107.3 646.8,109.3 647.0,110.8 647.2,112.4 647.5,112.8 647.8,113.7 648.0,114.2 648.2,116.0 648.5,116.3 648.8,117.6 649.0,117.4 649.2,115.8 649.5,115.3 649.8,115.6 650.0,116.3 650.2,118.0 650.5,116.0 650.8,115.5 651.0,117.6 651.2,118.8 651.5,118.8 651.8,119.9 652.0,118.1 652.2,117.5 652.5,117.9 652.8,116.8 653.0,117.6 653.2,119.8 653.5,120.8 653.8,119.9 654.0,118.8 654.2,118.2 654.5,118.8 654.8,116.4 655.0,119.3 655.2,119.5 655.5,118.5 655.8,118.7 656.0,116.7 656.2,119.6 656.5,119.6 656.8,115.5 657.0,118.1 657.2,119.2 657.5,120.7 657.8,117.8 658.0,118.7 658.2,120.5 658.5,119.4 658.8,118.6 659.0,118.3 659.2,118.9 659.5,117.9 659.8,120.1 660.0,117.9 660.2,119.6 660.5,120.6 660.8,120.4 661.0,119.1 661.2,119.0 661.5,119.4 661.8,119.1 662.0,120.3 662.2,118.9 662.5,121.3 662.8,122.4 663.0,118.3 663.2,119.5 663.5,117.7 663.8,120.0 664.0,119.6 664.2,118.8 664.5,117.8 664.8,119.1 665.0,121.5 665.2,122.0 665.5,119.5 665.8,118.3 666.0,119.0 666.2,118.1 666.5,117.5 666.8,117.9 667.0,119.8 667.2,119.4 667.5,119.3 667.8,117.8 668.0,117.4 668.2,120.3 668.5,118.6 668.8,120.5 669.0,118.2 669.2,120.2 669.5,119.4 669.8,118.6 670.0,118.6 670.2,121.4 670.5,120.2 670.8,118.8 671.0,119.3 671.2,117.2 671.5,121.1 671.8,120.7 672.0,118.6 672.2,119.6 672.5,115.8 672.8,120.2 673.0,119.6 673.2,119.4 673.5,120.0 673.8,119.4 674.0,117.9 674.2,118.2 674.5,118.8 674.8,120.1 675.0,119.0 675.2,118.2 675.5,119.4 675.8,117.5 676.0,121.5 676.2,119.3 676.5,117.2 676.8,119.1 677.0,120.2 677.2,119.6 677.5,121.3 677.8,117.2 678.0,120.8 678.2,118.8 678.5,119.9 678.8,120.9 679.0,117.4 679.2,117.1 679.5,118.3 679.8,116.7 680.0,116.3 680.2,118.6 680.5,119.8 680.8,117.7 681.0,118.7 681.2,122.0 681.5,118.0 681.8,117.0 682.0,116.7 682.2,117.0 682.5,115.9 682.8,116.6 683.0,116.1 683.2,116.9 683.5,116.4 683.8,116.5 684.0,116.0 684.2,115.9 684.5,117.3 684.8,117.5 685.0,118.4 685.2,118.2 685.5,117.9 685.8,121.1 686.0,118.9 686.2,120.0 686.5,117.4 686.8,119.9 687.0,120.1 687.2,119.3 687.5,117.7 687.8,120.2 688.0,117.9 688.2,116.9 688.5,116.8 688.8,118.8 689.0,118.2 689.2,119.7 689.5,119.6 689.8,120.4 690.0,119.2 690.2,118.9 690.5,118.8 690.8,117.8 691.0,117.8 691.2,117.9 691.5,119.0 691.8,117.8 692.0,118.7 692.2,120.0 692.5,115.9 692.8,117.7 693.0,117.6 693.2,118.7 693.5,116.9 693.8,117.9 694.0,121.4 694.2,117.1 694.5,118.6 694.8,119.0 695.0,118.3 695.2,117.2 695.5,119.8 695.8,116.4 696.0,117.5 696.2,118.3 696.5,117.5 696.8,120.0 697.0,118.2 697.2,120.8 697.5,118.5 697.8,120.3 698.0,119.0 698.2,118.2 698.5,117.9 698.8,119.7 699.0,117.8 699.2,118.4 699.5,117.5 699.8,116.0 700.0,119.0 700.2,119.1 700.5,116.9 700.8,118.9 701.0,118.0 701.2,116.1 701.5,117.2 701.8,119.1 702.0,119.5 702.2,118.7 702.5,121.5 702.8,118.6 703.0,117.3 703.2,116.5 703.5,119.9 703.8,117.6 704.0,117.7 704.2,117.1 704.5,117.1 704.8,117.6 705.0,118.5 705.2,118.6 705.5,118.3 705.8,118.9 706.0,117.3 706.2,116.6 706.5,117.7 706.8,115.4 707.0,118.6 707.2,118.1 707.5,118.1 707.8,116.2 708.0,116.8 708.2,117.2 708.5,116.0 708.8,115.8 709.0,116.6 709.2,116.9 709.5,115.9 709.8,117.4 710.0,118.4 710.2,116.5 710.5,115.5 710.8,115.1 711.0,116.6 711.2,115.0 711.5,114.8 711.8,113.9 712.0,112.7 712.2,113.5 712.5,111.3 712.8,110.5 713.0,108.1 713.2,108.3 713.5,105.9 713.8,103.4 714.0,100.6 714.2,97.7 714.5,94.1 714.8,91.3 715.0,87.6 715.2,85.2 715.5,83.5 715.8,83.6 716.0,84.3 716.2,86.8 716.5,90.0 716.8,93.2 717.0,96.6 717.2,99.9 717.5,102.9 717.8,105.1 718.0,106.8 718.2,109.1 718.5,109.7 718.8,110.1 719.0,113.1 719.2,112.8 719.5,113.1 719.8,113.0 720.0,114.1 720.2,116.5 720.5,115.2 720.8,117.7 721.0,115.9 721.2,117.2 721.5,116.3 721.8,116.0 722.0,116.2 722.2,116.5 722.5,115.6 722.8,115.7 723.0,117.5 723.2,118.6 723.5,117.5 723.8,117.5 724.0,116.5 724.2,118.8 724.5,118.8 724.8,116.4 725.0,117.9 725.2,117.4 725.5,116.1 725.8,119.7 726.0,119.2 726.2,118.3 726.5,119.6 726.8,117.4 727.0,118.3 727.2,119.6 727.5,117.7 727.8,118.5 728.0,117.0 728.2,118.9 728.5,119.5 728.8,117.0 729.0,117.3 729.2,118.1 729.5,119.8 729.8,117.6 730.0,117.2 730.2,118.1 730.5,119.6 730.8,116.5 731.0,118.0 731.2,119.8 731.5,118.2 731.8,117.9 732.0,119.3 732.2,116.8 732.5,120.7 732.8,118.8 733.0,117.8 733.2,118.4 733.5,118.2 733.8,117.9 734.0,116.8 734.2,118.0 734.5,116.2 734.8,119.9 735.0,116.9 735.2,117.4 735.5,117.3 735.8,119.1 736.0,118.0 736.2,119.9 736.5,117.6 736.8,118.3 737.0,118.1 737.2,117.7 737.5,119.4 737.8,119.4 738.0,119.5 738.2,116.3 738.5,118.1 738.8,116.2 739.0,115.9 739.2,114.9 739.5,115.3 739.8,116.3 740.0,116.5 740.2,116.5 740.5,114.1 740.8,114.7 741.0,116.0 741.2,116.5 741.5,117.1" fill="none" stroke="#1c46b6" stroke-width="1.5" stroke-linejoin="round"/><polyline points="408.0,181.8 408.2,176.9 408.5,181.0 408.8,180.1 409.0,181.4 409.2,180.5 409.5,182.0 409.8,180.2 410.0,179.7 410.2,180.8 410.5,180.7 410.8,179.9 411.0,180.1 411.2,181.1 411.5,181.1 411.8,179.9 412.0,180.1 412.2,178.7 412.5,182.2 412.8,180.3 413.0,181.9 413.2,181.0 413.5,182.6 413.8,182.2 414.0,181.0 414.2,182.2 414.5,179.3 414.8,182.0 415.0,179.3 415.2,181.1 415.5,181.9 415.8,181.1 416.0,180.5 416.2,180.1 416.5,180.6 416.8,182.0 417.0,181.9 417.2,180.8 417.5,179.8 417.8,181.8 418.0,179.7 418.2,180.3 418.5,180.4 418.8,181.9 419.0,181.5 419.2,181.7 419.5,181.6 419.8,180.6 420.0,181.9 420.2,182.8 420.5,181.4 420.8,182.1 421.0,181.3 421.2,182.5 421.5,182.2 421.8,182.4 422.0,181.9 422.2,183.2 422.5,181.2 422.8,181.3 423.0,181.0 423.2,182.2 423.5,181.0 423.8,181.0 424.0,182.8 424.2,182.9 424.5,182.3 424.8,179.1 425.0,180.8 425.2,180.7 425.5,180.6 425.8,181.4 426.0,183.7 426.2,181.5 426.5,181.1 426.8,182.6 427.0,182.0 427.2,182.1 427.5,181.3 427.8,182.0 428.0,182.4 428.2,180.1 428.5,179.6 428.8,183.1 429.0,182.9 429.2,181.6 429.5,181.1 429.8,181.9 430.0,180.9 430.2,181.8 430.5,183.8 430.8,182.3 431.0,183.4 431.2,182.0 431.5,182.6 431.8,183.7 432.0,181.0 432.2,182.0 432.5,182.2 432.8,182.6 433.0,183.9 433.2,183.1 433.5,180.9 433.8,182.1 434.0,181.5 434.2,181.5 434.5,184.5 434.8,181.4 435.0,182.7 435.2,181.8 435.5,183.4 435.8,182.9 436.0,182.7 436.2,182.5 436.5,183.8 436.8,181.7 437.0,181.9 437.2,181.6 437.5,184.0 437.8,182.4 438.0,181.7 438.2,182.3 438.5,185.3 438.8,182.7 439.0,183.7 439.2,183.5 439.5,182.8 439.8,182.2 440.0,182.5 440.2,182.4 440.5,180.7 440.8,185.5 441.0,183.9 441.2,183.1 441.5,182.8 441.8,182.2 442.0,184.0 442.2,182.9 442.5,183.5 442.8,181.7 443.0,183.5 443.2,185.1 443.5,182.9 443.8,184.0 444.0,183.2 444.2,184.3 444.5,184.3 444.8,183.3 445.0,182.7 445.2,183.6 445.5,183.3 445.8,182.7 446.0,183.8 446.2,183.8 446.5,182.5 446.8,183.3 447.0,186.3 447.2,184.2 447.5,183.5 447.8,186.0 448.0,183.0 448.2,181.0 448.5,181.6 448.8,182.0 449.0,183.8 449.2,184.5 449.5,181.4 449.8,184.7 450.0,182.4 450.2,183.9 450.5,184.1 450.8,184.1 451.0,183.7 451.2,183.9 451.5,182.6 451.8,184.0 452.0,184.7 452.2,184.7 452.5,186.4 452.8,184.9 453.0,184.6 453.2,185.5 453.5,184.1 453.8,182.6 454.0,181.7 454.2,185.2 454.5,184.5 454.8,184.8 455.0,183.7 455.2,184.4 455.5,185.9 455.8,184.4 456.0,182.9 456.2,183.6 456.5,185.5 456.8,183.0 457.0,181.6 457.2,181.9 457.5,182.8 457.8,185.0 458.0,184.3 458.2,183.5 458.5,183.0 458.8,184.1 459.0,184.1 459.2,183.7 459.5,184.1 459.8,183.6 460.0,186.1 460.2,182.0 460.5,184.5 460.8,183.4 461.0,185.1 461.2,184.2 461.5,184.8 461.8,185.0 462.0,184.8 462.2,185.5 462.5,183.1 462.8,185.4 463.0,184.3 463.2,184.9 463.5,186.1 463.8,185.6 464.0,186.5 464.2,182.3 464.5,183.6 464.8,185.5 465.0,183.4 465.2,184.4 465.5,186.3 465.8,185.4 466.0,183.6 466.2,185.0 466.5,185.2 466.8,184.6 467.0,184.5 467.2,184.7 467.5,183.1 467.8,184.7 468.0,183.2 468.2,185.0 468.5,185.0 468.8,183.7 469.0,185.2 469.2,184.9 469.5,184.5 469.8,185.3 470.0,184.2 470.2,184.3 470.5,184.6 470.8,184.4 471.0,185.6 471.2,182.1 471.5,184.1 471.8,181.4 472.0,183.7 472.2,184.3 472.5,184.0 472.8,184.7 473.0,183.8 473.2,180.6 473.5,181.5 473.8,182.9 474.0,181.7 474.2,179.3 474.5,176.9 474.8,177.4 475.0,174.7 475.2,175.9 475.5,176.9 475.8,178.5 476.0,179.0 476.2,180.8 476.5,182.9 476.8,182.4 477.0,182.1 477.2,183.6 477.5,184.0 477.8,184.0 478.0,183.5 478.2,184.8 478.5,184.3 478.8,183.3 479.0,184.7 479.2,184.5 479.5,184.8 479.8,183.0 480.0,183.9 480.2,185.2 480.5,185.7 480.8,185.1 481.0,184.9 481.2,185.5 481.5,185.8 481.8,186.6 482.0,185.3 482.2,184.3 482.5,185.4 482.8,183.0 483.0,185.0 483.2,184.5 483.5,184.9 483.8,185.4 484.0,185.0 484.2,183.5 484.5,184.6 484.8,184.2 485.0,185.0 485.2,185.3 485.5,184.0 485.8,185.7 486.0,186.3 486.2,184.7 486.5,185.7 486.8,183.5 487.0,184.5 487.2,186.0 487.5,183.3 487.8,184.5 488.0,183.7 488.2,186.1 488.5,186.1 488.8,184.4 489.0,185.1 489.2,182.4 489.5,185.8 489.8,185.3 490.0,186.2 490.2,182.6 490.5,185.3 490.8,184.5 491.0,182.3 491.2,184.2 491.5,184.7 491.8,185.6 492.0,184.9 492.2,184.2 492.5,185.0 492.8,184.4 493.0,183.8 493.2,183.3 493.5,184.2 493.8,183.9 494.0,185.1 494.2,182.6 494.5,183.8 494.8,182.1 495.0,181.9 495.2,179.6 495.5,178.9 495.8,178.6 496.0,178.9 496.2,178.5 496.5,179.3 496.8,179.8 497.0,181.2 497.2,181.4 497.5,181.6 497.8,183.1 498.0,183.3 498.2,185.2 498.5,183.8 498.8,184.3 499.0,184.1 499.2,185.6 499.5,185.5 499.8,185.4 500.0,183.6 500.2,183.4 500.5,185.2 500.8,185.7 501.0,186.4 501.2,183.3 501.5,184.9 501.8,183.4 502.0,184.2 502.2,184.9 502.5,186.1 502.8,184.6 503.0,184.5 503.2,184.9 503.5,186.5 503.8,187.6 504.0,183.7 504.2,185.0 504.5,184.8 504.8,186.4 505.0,185.7 505.2,186.8 505.5,184.3 505.8,185.3 506.0,184.9 506.2,184.2 506.5,185.2 506.8,184.2 507.0,187.5 507.2,185.8 507.5,184.3 507.8,184.7 508.0,187.1 508.2,184.9 508.5,186.1 508.8,185.9 509.0,186.5 509.2,186.0 509.5,185.2 509.8,184.8 510.0,183.6 510.2,185.3 510.5,185.5 510.8,185.0 511.0,185.3 511.2,184.2 511.5,187.6 511.8,184.9 512.0,184.4 512.2,184.8 512.5,185.2 512.8,186.2 513.0,183.0 513.2,185.9 513.5,184.8 513.8,185.2 514.0,186.4 514.2,186.2 514.5,184.8 514.8,185.3 515.0,187.3 515.2,186.8 515.5,186.3 515.8,185.4 516.0,186.4 516.2,185.8 516.5,184.9 516.8,184.4 517.0,185.9 517.2,185.8 517.5,186.6 517.8,184.9 518.0,186.8 518.2,185.1 518.5,186.6 518.8,185.9 519.0,184.8 519.2,184.0 519.5,185.2 519.8,185.1 520.0,186.3 520.2,184.7 520.5,183.9 520.8,185.3 521.0,187.2 521.2,186.9 521.5,184.7 521.8,185.0 522.0,185.6 522.2,184.6 522.5,185.0 522.8,185.0 523.0,184.2 523.2,184.6 523.5,184.7 523.8,185.3 524.0,183.9 524.2,185.1 524.5,184.0 524.8,184.2 525.0,183.8 525.2,188.6 525.5,185.9 525.8,185.9 526.0,185.3 526.2,184.2 526.5,184.4 526.8,184.5 527.0,184.4 527.2,184.4 527.5,184.9 527.8,180.8 528.0,182.5 528.2,183.1 528.5,181.8 528.8,181.3 529.0,181.6 529.2,179.6 529.5,178.9 529.8,175.9 530.0,173.0 530.2,168.8 530.5,163.4 530.8,157.6 531.0,150.9 531.2,145.3 531.5,143.3 531.8,146.7 532.0,152.6 532.2,159.3 532.5,165.2 532.8,170.6 533.0,174.2 533.2,176.6 533.5,178.4 533.8,180.0 534.0,182.1 534.2,183.8 534.5,182.3 534.8,182.4 535.0,181.7 535.2,185.9 535.5,182.8 535.8,185.2 536.0,184.6 536.2,185.6 536.5,183.7 536.8,183.1 537.0,184.9 537.2,185.2 537.5,186.0 537.8,183.4 538.0,184.6 538.2,184.9 538.5,183.9 538.8,185.1 539.0,186.0 539.2,185.3 539.5,184.0 539.8,185.7 540.0,186.3 540.2,186.0 540.5,186.2 540.8,183.9 541.0,186.0 541.2,186.1 541.5,185.2 541.8,185.5 542.0,184.9 542.2,186.8 542.5,185.3 542.8,184.7 543.0,185.8 543.2,185.8 543.5,186.3 543.8,184.9 544.0,185.0 544.2,186.1 544.5,187.9 544.8,186.2 545.0,184.4 545.2,185.9 545.5,185.0 545.8,183.9 546.0,185.1 546.2,184.9 546.5,186.2 546.8,187.1 547.0,186.9 547.2,186.6 547.5,185.4 547.8,185.9 548.0,185.7 548.2,187.2 548.5,185.1 548.8,185.2 549.0,187.3 549.2,186.4 549.5,185.3 549.8,186.0 550.0,185.9 550.2,186.0 550.5,186.6 550.8,186.1 551.0,185.6 551.2,185.3 551.5,184.1 551.8,185.3 552.0,186.9 552.2,186.0 552.5,185.1 552.8,185.5 553.0,184.9 553.2,186.0 553.5,187.7 553.8,187.5 554.0,186.9 554.2,186.4 554.5,185.4 554.8,184.4 555.0,185.6 555.2,185.2 555.5,186.4 555.8,185.7 556.0,185.0 556.2,185.9 556.5,188.2 556.8,184.5 557.0,186.4 557.2,185.8 557.5,185.1 557.8,184.4 558.0,185.1 558.2,185.2 558.5,185.5 558.8,185.3 559.0,184.8 559.2,183.7 559.5,184.3 559.8,183.3 560.0,182.5 560.2,183.6 560.5,181.7 560.8,180.1 561.0,180.1 561.2,177.4 561.5,176.1 561.8,173.1 562.0,169.0 562.2,164.7 562.5,160.8 562.8,158.1 563.0,158.5 563.2,161.7 563.5,165.9 563.8,170.4 564.0,174.0 564.2,176.9 564.5,179.1 564.8,180.0 565.0,182.8 565.2,181.6 565.5,183.3 565.8,184.4 566.0,183.8 566.2,183.6 566.5,184.4 566.8,186.3 567.0,185.3 567.2,184.6 567.5,185.5 567.8,184.9 568.0,183.4 568.2,185.5 568.5,186.3 568.8,186.5 569.0,185.4 569.2,183.5 569.5,186.7 569.8,185.4 570.0,186.3 570.2,186.7 570.5,186.0 570.8,185.6 571.0,185.1 571.2,185.2 571.5,185.7 571.8,185.2 572.0,186.0 572.2,183.8 572.5,184.7 572.8,185.6 573.0,185.0 573.2,185.1 573.5,184.5 573.8,186.2 574.0,187.1 574.2,184.5 574.5,186.5 574.8,183.9 575.0,185.3 575.2,183.1 575.5,185.2 575.8,184.4 576.0,184.1 576.2,184.6 576.5,183.5 576.8,182.4 577.0,181.3 577.2,181.6 577.5,180.9 577.8,181.2 578.0,182.9 578.2,183.0 578.5,183.2 578.8,184.0 579.0,182.7 579.2,184.5 579.5,183.2 579.8,184.4 580.0,185.5 580.2,185.7 580.5,186.1 580.8,185.7 581.0,185.6 581.2,185.6 581.5,187.0 581.8,187.0 582.0,184.3 582.2,185.9 582.5,187.0 582.8,185.5 583.0,186.0 583.2,185.2 583.5,184.6 583.8,185.9 584.0,185.4 584.2,185.6 584.5,184.3 584.8,184.6 585.0,185.6 585.2,185.3 585.5,186.2 585.8,184.6 586.0,186.3 586.2,186.1 586.5,185.6 586.8,186.1 587.0,185.4 587.2,185.2 587.5,185.3 587.8,184.0 588.0,185.1 588.2,185.7 588.5,183.4 588.8,185.3 589.0,183.9 589.2,183.9 589.5,184.0 589.8,183.7 590.0,184.0 590.2,182.1 590.5,182.4 590.8,180.1 591.0,178.7 591.2,176.8 591.5,174.2 591.8,172.0 592.0,170.8 592.2,170.5 592.5,171.4 592.8,173.0 593.0,175.8 593.2,177.3 593.5,178.8 593.8,181.4 594.0,182.6 594.2,181.9 594.5,184.0 594.8,182.8 595.0,184.3 595.2,186.5 595.5,186.0 595.8,185.6 596.0,185.8 596.2,184.5 596.5,185.7 596.8,185.9 597.0,184.6 597.2,185.9 597.5,186.3 597.8,186.0 598.0,186.3 598.2,185.7 598.5,184.9 598.8,186.0 599.0,184.2 599.2,185.4 599.5,187.1 599.8,187.8 600.0,186.5 600.2,183.8 600.5,187.5 600.8,186.7 601.0,186.0 601.2,187.0 601.5,186.8 601.8,185.1 602.0,185.0 602.2,187.3 602.5,184.0 602.8,186.9 603.0,186.6 603.2,187.3 603.5,188.1 603.8,187.7 604.0,187.9 604.2,187.2 604.5,186.9 604.8,187.4 605.0,186.4 605.2,185.5 605.5,186.3 605.8,184.8 606.0,185.9 606.2,188.5 606.5,186.9 606.8,186.3 607.0,185.8 607.2,184.7 607.5,185.9 607.8,185.7 608.0,186.4 608.2,186.5 608.5,186.4 608.8,184.6 609.0,187.9 609.2,186.9 609.5,186.5 609.8,186.1 610.0,186.9 610.2,187.7 610.5,187.1 610.8,185.3 611.0,185.2 611.2,184.1 611.5,186.6 611.8,187.1 612.0,188.3 612.2,186.6 612.5,187.2 612.8,185.5 613.0,186.9 613.2,186.3 613.5,185.8 613.8,184.8 614.0,187.6 614.2,184.2 614.5,187.0 614.8,185.6 615.0,187.0 615.2,185.9 615.5,187.2 615.8,186.2 616.0,185.4 616.2,185.9 616.5,184.8 616.8,186.7 617.0,188.0 617.2,186.8 617.5,186.5 617.8,187.7 618.0,185.3 618.2,187.0 618.5,186.4 618.8,186.0 619.0,187.0 619.2,185.3 619.5,186.3 619.8,186.8 620.0,185.3 620.2,186.2 620.5,186.9 620.8,187.4 621.0,185.5 621.2,187.3 621.5,186.1 621.8,186.5 622.0,185.9 622.2,187.2 622.5,185.7 622.8,186.7 623.0,186.8 623.2,187.2 623.5,185.4 623.8,187.2 624.0,186.5 624.2,187.9 624.5,186.1 624.8,185.9 625.0,186.4 625.2,186.1 625.5,186.2 625.8,185.2 626.0,184.3 626.2,185.0 626.5,185.8 626.8,186.8 627.0,186.1 627.2,185.5 627.5,186.3 627.8,186.5 628.0,189.1 628.2,187.7 628.5,186.6 628.8,185.0 629.0,186.2 629.2,186.1 629.5,186.9 629.8,188.5 630.0,186.3 630.2,184.4 630.5,186.3 630.8,184.7 631.0,187.2 631.2,187.5 631.5,186.7 631.8,184.9 632.0,186.2 632.2,187.6 632.5,185.4 632.8,185.8 633.0,186.6 633.2,186.8 633.5,186.4 633.8,186.7 634.0,186.5 634.2,185.8 634.5,186.3 634.8,186.6 635.0,185.2 635.2,186.5 635.5,186.4 635.8,186.8 636.0,186.6 636.2,185.2 636.5,185.0 636.8,186.5 637.0,186.1 637.2,186.3 637.5,185.7 637.8,184.9 638.0,186.4 638.2,186.0 638.5,186.7 638.8,187.2 639.0,187.2 639.2,187.0 639.5,185.1 639.8,184.0 640.0,185.4 640.2,184.7 640.5,184.6 640.8,186.4 641.0,184.2 641.2,186.5 641.5,186.6 641.8,187.9 642.0,186.2 642.2,187.0 642.5,184.3 642.8,183.9 643.0,185.0 643.2,182.6 643.5,183.9 643.8,182.1 644.0,180.0 644.2,181.5 644.5,178.6 644.8,179.2 645.0,176.3 645.2,175.8 645.5,175.7 645.8,175.7 646.0,175.7 646.2,177.2 646.5,178.4 646.8,179.8 647.0,179.6 647.2,181.2 647.5,182.4 647.8,183.8 648.0,183.9 648.2,183.9 648.5,184.2 648.8,186.2 649.0,184.4 649.2,185.6 649.5,183.4 649.8,187.2 650.0,186.3 650.2,184.1 650.5,186.4 650.8,187.2 651.0,186.7 651.2,186.0 651.5,186.8 651.8,185.3 652.0,185.8 652.2,185.8 652.5,186.2 652.8,185.1 653.0,187.5 653.2,186.1 653.5,185.1 653.8,186.0 654.0,186.6 654.2,186.3 654.5,187.3 654.8,185.9 655.0,185.5 655.2,186.8 655.5,187.6 655.8,185.4 656.0,184.7 656.2,185.7 656.5,186.2 656.8,185.3 657.0,186.5 657.2,185.5 657.5,187.2 657.8,185.2 658.0,185.4 658.2,186.4 658.5,187.0 658.8,187.3 659.0,185.7 659.2,186.4 659.5,186.9 659.8,187.8 660.0,185.5 660.2,185.1 660.5,186.9 660.8,186.1 661.0,187.7 661.2,186.4 661.5,186.7 661.8,185.6 662.0,186.7 662.2,187.6 662.5,186.1 662.8,185.2 663.0,187.3 663.2,186.1 663.5,186.5 663.8,185.7 664.0,187.3 664.2,185.7 664.5,185.9 664.8,186.4 665.0,186.2 665.2,184.2 665.5,186.9 665.8,185.2 666.0,186.7 666.2,186.0 666.5,186.3 666.8,185.7 667.0,185.3 667.2,186.5 667.5,186.6 667.8,187.4 668.0,186.9 668.2,185.7 668.5,188.1 668.8,188.6 669.0,187.1 669.2,186.1 669.5,185.4 669.8,186.5 670.0,185.0 670.2,187.2 670.5,186.0 670.8,185.8 671.0,186.6 671.2,185.2 671.5,184.7 671.8,186.0 672.0,187.6 672.2,185.5 672.5,187.2 672.8,184.6 673.0,186.3 673.2,186.9 673.5,188.1 673.8,184.6 674.0,186.3 674.2,185.5 674.5,186.7 674.8,185.8 675.0,186.5 675.2,185.6 675.5,185.8 675.8,186.7 676.0,187.8 676.2,186.5 676.5,186.4 676.8,185.9 677.0,188.6 677.2,184.4 677.5,184.3 677.8,185.5 678.0,186.7 678.2,187.2 678.5,186.8 678.8,187.0 679.0,186.4 679.2,185.7 679.5,185.1 679.8,186.6 680.0,185.2 680.2,186.4 680.5,186.7 680.8,185.3 681.0,185.4 681.2,185.1 681.5,186.1 681.8,185.4 682.0,184.3 682.2,184.8 682.5,185.4 682.8,183.9 683.0,183.3 683.2,182.5 683.5,181.9 683.8,182.6 684.0,182.8 684.2,182.9 684.5,184.6 684.8,183.9 685.0,184.4 685.2,185.1 685.5,185.7 685.8,183.8 686.0,185.9 686.2,187.0 686.5,184.8 686.8,186.3 687.0,185.5 687.2,185.1 687.5,186.4 687.8,186.1 688.0,184.2 688.2,185.6 688.5,187.0 688.8,185.7 689.0,185.5 689.2,185.9 689.5,185.8 689.8,187.4 690.0,185.5 690.2,185.2 690.5,186.7 690.8,187.3 691.0,187.0 691.2,187.2 691.5,185.7 691.8,184.9 692.0,185.6 692.2,186.3 692.5,184.7 692.8,186.1 693.0,186.9 693.2,185.7 693.5,188.3 693.8,187.1 694.0,185.2 694.2,185.2 694.5,185.7 694.8,187.1 695.0,186.8 695.2,185.8 695.5,186.6 695.8,187.1 696.0,186.9 696.2,184.0 696.5,185.3 696.8,185.5 697.0,184.7 697.2,187.2 697.5,185.7 697.8,185.7 698.0,185.5 698.2,186.6 698.5,186.9 698.8,187.0 699.0,187.6 699.2,185.4 699.5,187.9 699.8,188.8 700.0,185.8 700.2,186.0 700.5,186.9 700.8,187.5 701.0,186.1 701.2,185.5 701.5,188.4 701.8,185.8 702.0,183.6 702.2,186.8 702.5,187.3 702.8,188.0 703.0,188.0 703.2,189.3 703.5,185.7 703.8,185.3 704.0,184.8 704.2,187.9 704.5,185.8 704.8,184.6 705.0,184.2 705.2,186.3 705.5,185.8 705.8,186.5 706.0,185.4 706.2,185.5 706.5,186.6 706.8,186.0 707.0,186.7 707.2,186.0 707.5,185.8 707.8,186.4 708.0,185.7 708.2,186.2 708.5,186.4 708.8,185.5 709.0,185.8 709.2,186.0 709.5,186.5 709.8,186.1 710.0,186.0 710.2,186.2 710.5,185.4 710.8,186.0 711.0,184.9 711.2,183.8 711.5,185.8 711.8,183.5 712.0,185.1 712.2,186.5 712.5,185.6 712.8,183.9 713.0,185.2 713.2,184.5 713.5,183.3 713.8,183.6 714.0,182.8 714.2,182.5 714.5,182.4 714.8,180.2 715.0,180.7 715.2,180.0 715.5,177.4 715.8,175.5 716.0,173.8 716.2,172.3 716.5,170.1 716.8,169.1 717.0,169.0 717.2,168.7 717.5,170.2 717.8,171.8 718.0,173.7 718.2,175.8 718.5,177.1 718.8,179.1 719.0,180.2 719.2,181.9 719.5,182.5 719.8,183.0 720.0,184.4 720.2,183.5 720.5,184.6 720.8,183.8 721.0,185.8 721.2,184.1 721.5,185.8 721.8,184.4 722.0,185.4 722.2,184.3 722.5,184.7 722.8,184.6 723.0,186.0 723.2,186.1 723.5,186.4 723.8,186.1 724.0,185.6 724.2,186.5 724.5,187.4 724.8,185.6 725.0,185.2 725.2,186.5 725.5,187.9 725.8,185.9 726.0,185.7 726.2,185.0 726.5,185.3 726.8,185.1 727.0,185.0 727.2,186.9 727.5,187.1 727.8,185.8 728.0,185.7 728.2,186.1 728.5,185.1 728.8,184.7 729.0,184.6 729.2,183.6 729.5,184.3 729.8,185.7 730.0,183.5 730.2,184.2 730.5,183.7 730.8,184.5 731.0,185.5 731.2,186.0 731.5,185.7 731.8,184.8 732.0,186.5 732.2,185.7 732.5,186.6 732.8,186.1 733.0,186.2 733.2,186.3 733.5,184.3 733.8,187.6 734.0,185.5 734.2,186.8 734.5,187.3 734.8,185.9 735.0,185.1 735.2,187.0 735.5,185.5 735.8,186.4 736.0,186.9 736.2,186.0 736.5,184.8 736.8,185.8 737.0,187.0 737.2,185.7 737.5,187.4 737.8,185.0 738.0,185.5 738.2,184.8 738.5,185.6 738.8,188.0 739.0,187.1 739.2,186.2 739.5,185.9 739.8,187.6 740.0,186.4 740.2,185.5 740.5,188.0 740.8,185.2 741.0,186.7 741.2,187.1 741.5,187.4" fill="none" stroke="#ea0c0c" stroke-width="1.5" stroke-linejoin="round"/><polyline points="408.0,255.0 408.2,253.4 408.5,252.8 408.8,251.6 409.0,254.0 409.2,255.6 409.5,254.4 409.8,254.9 410.0,255.4 410.2,253.6 410.5,257.0 410.8,253.7 411.0,254.9 411.2,257.1 411.5,254.4 411.8,254.7 412.0,254.1 412.2,254.9 412.5,252.6 412.8,254.0 413.0,256.3 413.2,254.9 413.5,254.5 413.8,255.1 414.0,255.1 414.2,254.9 414.5,255.3 414.8,253.2 415.0,255.4 415.2,254.2 415.5,255.6 415.8,254.8 416.0,253.9 416.2,254.8 416.5,254.0 416.8,255.9 417.0,254.9 417.2,255.8 417.5,253.9 417.8,256.6 418.0,254.8 418.2,256.4 418.5,255.9 418.8,254.0 419.0,255.6 419.2,254.6 419.5,255.5 419.8,256.5 420.0,256.2 420.2,256.2 420.5,254.1 420.8,255.4 421.0,255.6 421.2,256.3 421.5,254.7 421.8,255.9 422.0,255.7 422.2,253.9 422.5,254.4 422.8,255.8 423.0,254.3 423.2,254.2 423.5,256.3 423.8,255.7 424.0,255.2 424.2,255.6 424.5,255.1 424.8,255.0 425.0,255.1 425.2,255.9 425.5,256.8 425.8,255.1 426.0,255.5 426.2,255.4 426.5,254.4 426.8,255.8 427.0,256.4 427.2,254.8 427.5,256.4 427.8,255.1 428.0,256.8 428.2,256.9 428.5,255.4 428.8,253.8 429.0,255.4 429.2,254.4 429.5,254.5 429.8,255.5 430.0,257.1 430.2,255.7 430.5,255.6 430.8,254.1 431.0,255.3 431.2,254.6 431.5,256.4 431.8,255.4 432.0,255.9 432.2,255.9 432.5,255.8 432.8,256.9 433.0,256.4 433.2,255.7 433.5,256.2 433.8,256.6 434.0,257.3 434.2,256.2 434.5,257.4 434.8,255.5 435.0,255.9 435.2,254.7 435.5,256.9 435.8,255.2 436.0,255.2 436.2,257.0 436.5,255.7 436.8,255.5 437.0,257.1 437.2,256.1 437.5,257.1 437.8,255.9 438.0,257.0 438.2,257.3 438.5,256.4 438.8,258.0 439.0,256.0 439.2,256.2 439.5,256.4 439.8,257.3 440.0,256.1 440.2,256.0 440.5,256.7 440.8,257.6 441.0,256.1 441.2,255.3 441.5,256.4 441.8,257.1 442.0,256.0 442.2,256.6 442.5,254.8 442.8,256.6 443.0,256.7 443.2,257.2 443.5,256.9 443.8,257.3 444.0,255.7 444.2,257.2 444.5,255.1 444.8,256.1 445.0,257.7 445.2,257.5 445.5,254.9 445.8,257.3 446.0,256.3 446.2,256.0 446.5,256.9 446.8,256.9 447.0,258.1 447.2,255.4 447.5,256.4 447.8,256.7 448.0,255.1 448.2,257.9 448.5,258.5 448.8,256.2 449.0,257.2 449.2,256.6 449.5,257.1 449.8,256.3 450.0,257.7 450.2,255.8 450.5,258.2 450.8,257.3 451.0,259.3 451.2,255.4 451.5,256.9 451.8,255.8 452.0,256.9 452.2,257.4 452.5,256.2 452.8,255.7 453.0,255.4 453.2,257.4 453.5,258.3 453.8,258.2 454.0,257.1 454.2,256.2 454.5,256.8 454.8,255.0 455.0,255.7 455.2,258.2 455.5,256.9 455.8,257.5 456.0,256.9 456.2,258.5 456.5,258.6 456.8,256.5 457.0,256.9 457.2,256.6 457.5,259.1 457.8,258.5 458.0,257.0 458.2,259.5 458.5,257.3 458.8,256.2 459.0,255.4 459.2,257.2 459.5,257.7 459.8,256.8 460.0,257.7 460.2,258.5 460.5,257.3 460.8,258.2 461.0,259.8 461.2,257.9 461.5,256.9 461.8,257.9 462.0,258.0 462.2,259.5 462.5,257.1 462.8,256.1 463.0,257.8 463.2,257.9 463.5,257.2 463.8,258.1 464.0,257.9 464.2,258.7 464.5,256.8 464.8,257.0 465.0,257.6 465.2,257.2 465.5,258.9 465.8,258.2 466.0,257.7 466.2,259.1 466.5,258.2 466.8,258.7 467.0,258.5 467.2,257.6 467.5,257.6 467.8,257.8 468.0,256.7 468.2,257.4 468.5,258.6 468.8,258.1 469.0,256.9 469.2,260.0 469.5,256.8 469.8,258.4 470.0,258.5 470.2,259.0 470.5,257.0 470.8,257.8 471.0,257.6 471.2,258.8 471.5,258.1 471.8,258.1 472.0,258.1 472.2,259.4 472.5,258.1 472.8,258.2 473.0,256.4 473.2,257.7 473.5,255.7 473.8,257.0 474.0,255.6 474.2,253.7 474.5,252.0 474.8,250.5 475.0,248.2 475.2,246.2 475.5,246.0 475.8,247.5 476.0,249.7 476.2,252.1 476.5,254.2 476.8,256.3 477.0,256.7 477.2,256.3 477.5,258.6 477.8,258.5 478.0,257.4 478.2,258.6 478.5,257.3 478.8,257.2 479.0,257.3 479.2,259.5 479.5,258.2 479.8,258.4 480.0,258.2 480.2,257.8 480.5,258.7 480.8,258.9 481.0,260.1 481.2,257.5 481.5,259.8 481.8,259.0 482.0,256.8 482.2,259.3 482.5,259.9 482.8,259.4 483.0,258.7 483.2,258.6 483.5,256.6 483.8,258.8 484.0,258.6 484.2,257.6 484.5,258.7 484.8,257.9 485.0,260.6 485.2,257.3 485.5,257.6 485.8,256.5 486.0,258.1 486.2,258.6 486.5,258.5 486.8,257.9 487.0,259.3 487.2,258.7 487.5,259.6 487.8,258.4 488.0,256.8 488.2,258.3 488.5,257.5 488.8,259.2 489.0,257.9 489.2,258.2 489.5,258.4 489.8,257.0 490.0,258.1 490.2,259.2 490.5,257.9 490.8,258.2 491.0,258.5 491.2,257.7 491.5,258.0 491.8,258.7 492.0,257.9 492.2,258.2 492.5,258.0 492.8,257.1 493.0,256.8 493.2,259.7 493.5,259.0 493.8,257.4 494.0,258.1 494.2,257.8 494.5,257.1 494.8,255.4 495.0,253.8 495.2,253.1 495.5,252.8 495.8,252.8 496.0,252.4 496.2,251.5 496.5,252.1 496.8,253.9 497.0,255.5 497.2,254.4 497.5,256.2 497.8,256.6 498.0,256.8 498.2,257.1 498.5,257.4 498.8,257.9 499.0,256.6 499.2,258.1 499.5,258.9 499.8,259.0 500.0,259.1 500.2,258.7 500.5,258.6 500.8,260.3 501.0,258.4 501.2,258.7 501.5,259.7 501.8,258.7 502.0,257.4 502.2,258.1 502.5,258.3 502.8,258.5 503.0,258.3 503.2,259.6 503.5,259.4 503.8,259.2 504.0,258.4 504.2,259.7 504.5,259.7 504.8,260.8 505.0,258.2 505.2,258.7 505.5,260.1 505.8,257.8 506.0,259.1 506.2,259.0 506.5,258.9 506.8,258.0 507.0,258.9 507.2,257.5 507.5,260.0 507.8,258.4 508.0,259.0 508.2,258.9 508.5,259.1 508.8,259.0 509.0,259.5 509.2,258.5 509.5,258.9 509.8,257.9 510.0,257.9 510.2,258.1 510.5,258.0 510.8,257.6 511.0,258.3 511.2,259.5 511.5,259.3 511.8,258.5 512.0,259.2 512.2,259.3 512.5,261.4 512.8,257.4 513.0,259.2 513.2,257.7 513.5,260.1 513.8,258.7 514.0,259.4 514.2,259.1 514.5,259.6 514.8,256.2 515.0,257.9 515.2,259.0 515.5,257.7 515.8,259.5 516.0,260.1 516.2,257.8 516.5,258.6 516.8,259.5 517.0,260.6 517.2,259.9 517.5,259.6 517.8,258.1 518.0,259.0 518.2,259.1 518.5,258.4 518.8,259.3 519.0,258.6 519.2,258.5 519.5,260.9 519.8,258.7 520.0,260.6 520.2,258.5 520.5,258.8 520.8,257.7 521.0,258.3 521.2,260.3 521.5,258.8 521.8,257.0 522.0,260.0 522.2,257.9 522.5,258.3 522.8,258.6 523.0,256.9 523.2,260.0 523.5,259.7 523.8,258.2 524.0,258.8 524.2,258.2 524.5,257.9 524.8,258.1 525.0,257.0 525.2,257.8 525.5,257.6 525.8,259.6 526.0,256.6 526.2,258.8 526.5,258.2 526.8,257.5 527.0,256.7 527.2,258.4 527.5,257.8 527.8,256.3 528.0,255.8 528.2,255.5 528.5,256.0 528.8,253.3 529.0,252.8 529.2,251.7 529.5,248.5 529.8,245.7 530.0,241.0 530.2,233.1 530.5,222.9 530.8,212.0 531.0,208.8 531.2,214.6 531.5,223.8 531.8,230.9 532.0,235.0 532.2,237.9 532.5,239.3 532.8,240.4 533.0,241.6 533.2,242.6 533.5,243.4 533.8,245.6 534.0,247.0 534.2,248.2 534.5,249.4 534.8,251.4 535.0,251.8 535.2,252.8 535.5,253.6 535.8,256.2 536.0,254.8 536.2,254.0 536.5,256.2 536.8,255.9 537.0,255.6 537.2,257.4 537.5,257.1 537.8,258.4 538.0,257.6 538.2,259.0 538.5,259.0 538.8,258.3 539.0,259.0 539.2,260.0 539.5,259.4 539.8,257.3 540.0,258.7 540.2,258.9 540.5,259.9 540.8,258.7 541.0,259.9 541.2,258.8 541.5,259.0 541.8,258.8 542.0,259.0 542.2,258.9 542.5,259.4 542.8,258.4 543.0,258.2 543.2,259.0 543.5,259.3 543.8,258.8 544.0,259.5 544.2,259.5 544.5,260.7 544.8,257.9 545.0,261.0 545.2,257.1 545.5,257.6 545.8,259.5 546.0,258.4 546.2,259.0 546.5,258.8 546.8,258.1 547.0,258.0 547.2,258.9 547.5,259.6 547.8,259.8 548.0,259.4 548.2,259.0 548.5,260.4 548.8,257.3 549.0,259.3 549.2,260.5 549.5,260.8 549.8,260.4 550.0,260.5 550.2,260.3 550.5,259.4 550.8,257.3 551.0,258.9 551.2,259.1 551.5,261.4 551.8,258.9 552.0,259.0 552.2,259.9 552.5,258.4 552.8,259.3 553.0,259.8 553.2,259.0 553.5,259.2 553.8,256.8 554.0,258.1 554.2,259.0 554.5,260.3 554.8,258.7 555.0,258.4 555.2,258.5 555.5,259.8 555.8,257.8 556.0,259.3 556.2,258.7 556.5,259.1 556.8,258.3 557.0,259.0 557.2,260.1 557.5,258.6 557.8,258.4 558.0,256.5 558.2,259.0 558.5,258.0 558.8,258.8 559.0,258.4 559.2,257.5 559.5,257.4 559.8,256.6 560.0,259.1 560.2,257.9 560.5,257.4 560.8,257.1 561.0,256.6 561.2,255.3 561.5,254.2 561.8,253.4 562.0,249.6 562.2,247.8 562.5,244.6 562.8,241.3 563.0,237.1 563.2,234.6 563.5,233.9 563.8,234.5 564.0,237.7 564.2,240.9 564.5,244.6 564.8,247.3 565.0,250.0 565.2,251.4 565.5,254.0 565.8,253.1 566.0,255.9 566.2,255.9 566.5,256.7 566.8,258.4 567.0,257.4 567.2,257.3 567.5,258.1 567.8,258.9 568.0,258.0 568.2,260.0 568.5,258.8 568.8,258.5 569.0,258.3 569.2,258.8 569.5,259.5 569.8,260.5 570.0,259.2 570.2,258.7 570.5,259.2 570.8,257.4 571.0,260.3 571.2,260.1 571.5,259.2 571.8,260.0 572.0,258.5 572.2,261.0 572.5,259.3 572.8,259.0 573.0,261.3 573.2,258.6 573.5,259.8 573.8,258.7 574.0,258.9 574.2,259.1 574.5,258.8 574.8,260.5 575.0,260.0 575.2,258.4 575.5,260.8 575.8,258.4 576.0,257.9 576.2,257.8 576.5,255.9 576.8,256.4 577.0,253.4 577.2,251.3 577.5,249.8 577.8,246.8 578.0,245.2 578.2,244.5 578.5,245.9 578.8,248.2 579.0,249.8 579.2,252.9 579.5,254.2 579.8,257.1 580.0,258.6 580.2,258.2 580.5,258.7 580.8,259.5 581.0,259.7 581.2,257.7 581.5,258.0 581.8,258.8 582.0,258.1 582.2,259.1 582.5,259.5 582.8,258.7 583.0,259.9 583.2,260.8 583.5,259.6 583.8,259.9 584.0,259.5 584.2,259.5 584.5,259.1 584.8,258.6 585.0,260.3 585.2,260.5 585.5,259.5 585.8,259.6 586.0,257.7 586.2,259.2 586.5,259.7 586.8,259.3 587.0,259.4 587.2,258.4 587.5,258.1 587.8,258.9 588.0,260.3 588.2,258.5 588.5,257.4 588.8,257.9 589.0,258.1 589.2,258.9 589.5,258.3 589.8,256.3 590.0,255.4 590.2,255.0 590.5,253.9 590.8,251.9 591.0,250.9 591.2,248.4 591.5,246.5 591.8,244.5 592.0,243.4 592.2,243.0 592.5,243.8 592.8,245.6 593.0,247.3 593.2,249.8 593.5,250.8 593.8,252.9 594.0,253.8 594.2,254.7 594.5,256.5 594.8,258.6 595.0,257.9 595.2,259.0 595.5,256.9 595.8,258.9 596.0,257.9 596.2,259.2 596.5,260.1 596.8,258.8 597.0,260.3 597.2,258.7 597.5,259.6 597.8,259.0 598.0,259.7 598.2,259.5 598.5,256.7 598.8,259.4 599.0,259.3 599.2,261.3 599.5,257.5 599.8,259.9 600.0,260.6 600.2,261.6 600.5,261.1 600.8,259.9 601.0,261.3 601.2,259.8 601.5,259.8 601.8,259.7 602.0,259.7 602.2,261.4 602.5,258.5 602.8,258.6 603.0,260.9 603.2,260.5 603.5,260.9 603.8,259.8 604.0,260.7 604.2,259.9 604.5,259.6 604.8,259.7 605.0,260.2 605.2,260.2 605.5,259.7 605.8,261.6 606.0,260.5 606.2,259.8 606.5,258.9 606.8,260.1 607.0,258.6 607.2,259.3 607.5,259.1 607.8,259.3 608.0,260.3 608.2,257.1 608.5,261.5 608.8,260.5 609.0,259.7 609.2,259.5 609.5,260.8 609.8,260.0 610.0,261.7 610.2,260.0 610.5,258.7 610.8,258.8 611.0,260.0 611.2,261.1 611.5,259.0 611.8,261.3 612.0,260.9 612.2,259.8 612.5,261.3 612.8,258.5 613.0,258.1 613.2,260.4 613.5,260.5 613.8,260.5 614.0,260.1 614.2,258.8 614.5,260.6 614.8,259.8 615.0,261.0 615.2,260.3 615.5,259.1 615.8,260.7 616.0,260.9 616.2,260.9 616.5,259.5 616.8,259.2 617.0,260.9 617.2,260.1 617.5,260.0 617.8,261.1 618.0,261.1 618.2,260.6 618.5,260.0 618.8,261.6 619.0,259.2 619.2,260.2 619.5,260.5 619.8,258.9 620.0,259.5 620.2,261.0 620.5,260.1 620.8,259.2 621.0,261.7 621.2,260.4 621.5,260.3 621.8,261.9 622.0,258.8 622.2,259.7 622.5,259.3 622.8,261.4 623.0,259.4 623.2,262.4 623.5,260.6 623.8,260.5 624.0,261.1 624.2,260.0 624.5,259.3 624.8,259.6 625.0,260.2 625.2,259.3 625.5,260.3 625.8,259.6 626.0,260.0 626.2,260.1 626.5,261.7 626.8,262.3 627.0,262.0 627.2,260.1 627.5,259.6 627.8,261.3 628.0,261.6 628.2,261.2 628.5,259.8 628.8,260.6 629.0,260.1 629.2,261.3 629.5,261.2 629.8,260.6 630.0,260.0 630.2,262.0 630.5,260.5 630.8,261.1 631.0,260.9 631.2,261.1 631.5,261.5 631.8,260.0 632.0,259.9 632.2,260.9 632.5,257.3 632.8,260.3 633.0,259.9 633.2,261.0 633.5,260.6 633.8,260.1 634.0,259.2 634.2,260.1 634.5,260.0 634.8,260.3 635.0,260.5 635.2,259.6 635.5,260.7 635.8,259.7 636.0,260.6 636.2,260.4 636.5,261.3 636.8,260.1 637.0,261.6 637.2,259.8 637.5,259.3 637.8,260.6 638.0,258.9 638.2,260.3 638.5,260.3 638.8,260.1 639.0,260.3 639.2,260.0 639.5,261.0 639.8,259.7 640.0,258.0 640.2,259.3 640.5,260.3 640.8,260.4 641.0,260.4 641.2,259.4 641.5,258.5 641.8,260.5 642.0,258.5 642.2,257.9 642.5,256.7 642.8,260.0 643.0,258.2 643.2,256.5 643.5,258.3 643.8,257.7 644.0,255.6 644.2,256.8 644.5,255.7 644.8,255.4 645.0,255.1 645.2,253.2 645.5,253.6 645.8,251.6 646.0,250.4 646.2,250.0 646.5,248.5 646.8,247.7 647.0,247.3 647.2,246.3 647.5,246.0 647.8,246.4 648.0,246.6 648.2,247.1 648.5,248.2 648.8,248.6 649.0,250.1 649.2,250.4 649.5,252.0 649.8,252.1 650.0,253.9 650.2,254.4 650.5,254.8 650.8,255.8 651.0,256.2 651.2,257.4 651.5,256.7 651.8,257.9 652.0,257.7 652.2,257.7 652.5,258.0 652.8,257.7 653.0,259.0 653.2,259.0 653.5,259.3 653.8,257.7 654.0,258.8 654.2,260.6 654.5,260.5 654.8,259.4 655.0,259.5 655.2,259.8 655.5,260.6 655.8,261.0 656.0,260.0 656.2,260.0 656.5,259.8 656.8,260.2 657.0,261.5 657.2,259.3 657.5,260.5 657.8,258.9 658.0,259.0 658.2,258.5 658.5,259.5 658.8,261.4 659.0,261.6 659.2,260.8 659.5,260.0 659.8,261.1 660.0,259.2 660.2,258.8 660.5,259.3 660.8,260.0 661.0,258.5 661.2,259.4 661.5,261.7 661.8,260.0 662.0,259.8 662.2,259.6 662.5,261.1 662.8,260.8 663.0,260.3 663.2,260.1 663.5,258.2 663.8,258.9 664.0,259.8 664.2,259.7 664.5,259.9 664.8,259.8 665.0,262.6 665.2,261.3 665.5,259.2 665.8,260.9 666.0,260.6 666.2,260.2 666.5,260.0 666.8,260.6 667.0,262.0 667.2,259.8 667.5,260.1 667.8,260.2 668.0,258.7 668.2,260.3 668.5,259.5 668.8,260.5 669.0,260.7 669.2,262.0 669.5,260.1 669.8,260.1 670.0,261.0 670.2,262.2 670.5,260.5 670.8,260.8 671.0,260.9 671.2,260.8 671.5,259.9 671.8,259.6 672.0,259.7 672.2,259.8 672.5,260.6 672.8,259.5 673.0,259.6 673.2,260.3 673.5,260.2 673.8,260.4 674.0,259.2 674.2,262.0 674.5,260.1 674.8,260.1 675.0,259.5 675.2,260.7 675.5,261.2 675.8,260.2 676.0,260.1 676.2,260.0 676.5,262.2 676.8,260.7 677.0,259.8 677.2,260.3 677.5,261.1 677.8,260.2 678.0,260.3 678.2,260.2 678.5,259.8 678.8,260.4 679.0,261.3 679.2,260.2 679.5,259.5 679.8,258.9 680.0,259.4 680.2,258.8 680.5,258.3 680.8,259.2 681.0,258.4 681.2,258.2 681.5,256.7 681.8,254.6 682.0,253.6 682.2,251.2 682.5,249.1 682.8,246.7 683.0,246.3 683.2,247.3 683.5,249.7 683.8,251.8 684.0,253.1 684.2,254.8 684.5,257.1 684.8,256.5 685.0,257.8 685.2,258.6 685.5,258.8 685.8,259.6 686.0,260.2 686.2,259.9 686.5,258.6 686.8,261.0 687.0,260.8 687.2,259.2 687.5,259.7 687.8,258.9 688.0,261.3 688.2,259.7 688.5,260.5 688.8,260.6 689.0,261.3 689.2,260.3 689.5,259.9 689.8,260.8 690.0,261.1 690.2,259.8 690.5,260.2 690.8,258.9 691.0,261.6 691.2,259.7 691.5,261.2 691.8,261.1 692.0,261.0 692.2,261.2 692.5,259.6 692.8,260.5 693.0,259.7 693.2,260.2 693.5,259.7 693.8,262.5 694.0,260.5 694.2,261.2 694.5,259.7 694.8,261.9 695.0,260.2 695.2,260.2 695.5,260.1 695.8,258.9 696.0,258.5 696.2,260.5 696.5,259.3 696.8,260.0 697.0,261.9 697.2,259.8 697.5,261.8 697.8,260.3 698.0,258.9 698.2,260.2 698.5,260.5 698.8,259.9 699.0,258.2 699.2,257.4 699.5,258.2 699.8,258.1 700.0,257.3 700.2,255.5 700.5,255.7 700.8,256.5 701.0,257.9 701.2,258.1 701.5,258.7 701.8,258.8 702.0,257.0 702.2,258.3 702.5,259.6 702.8,258.2 703.0,261.4 703.2,258.9 703.5,260.1 703.8,260.1 704.0,260.1 704.2,257.8 704.5,258.1 704.8,258.8 705.0,257.0 705.2,256.8 705.5,254.2 705.8,255.9 706.0,256.1 706.2,256.6 706.5,256.1 706.8,257.5 707.0,258.4 707.2,258.7 707.5,258.3 707.8,260.4 708.0,260.4 708.2,259.4 708.5,261.0 708.8,258.7 709.0,260.0 709.2,261.2 709.5,260.3 709.8,259.6 710.0,260.1 710.2,259.6 710.5,259.2 710.8,258.9 711.0,259.5 711.2,259.3 711.5,259.7 711.8,258.6 712.0,259.4 712.2,259.9 712.5,258.4 712.8,260.0 713.0,257.9 713.2,257.6 713.5,257.4 713.8,256.5 714.0,255.8 714.2,255.4 714.5,255.3 714.8,254.0 715.0,254.0 715.2,251.8 715.5,250.2 715.8,248.5 716.0,247.0 716.2,245.2 716.5,243.8 716.8,242.9 717.0,242.7 717.2,242.5 717.5,243.8 717.8,245.1 718.0,246.9 718.2,248.5 718.5,250.5 718.8,252.1 719.0,253.4 719.2,254.0 719.5,255.8 719.8,255.6 720.0,255.8 720.2,258.0 720.5,257.8 720.8,257.0 721.0,257.9 721.2,258.7 721.5,259.7 721.8,258.9 722.0,258.5 722.2,258.4 722.5,258.2 722.8,259.4 723.0,258.9 723.2,260.1 723.5,259.0 723.8,260.6 724.0,259.5 724.2,259.8 724.5,259.7 724.8,259.7 725.0,261.2 725.2,259.2 725.5,259.4 725.8,259.6 726.0,260.4 726.2,258.9 726.5,261.0 726.8,258.9 727.0,259.2 727.2,259.6 727.5,259.6 727.8,258.4 728.0,259.6 728.2,259.9 728.5,257.8 728.8,257.6 729.0,256.6 729.2,256.7 729.5,254.6 729.8,254.6 730.0,254.6 730.2,255.9 730.5,256.5 730.8,257.3 731.0,258.1 731.2,259.6 731.5,259.0 731.8,260.2 732.0,259.6 732.2,260.8 732.5,258.9 732.8,259.0 733.0,260.6 733.2,261.4 733.5,259.7 733.8,258.3 734.0,261.2 734.2,260.7 734.5,259.6 734.8,261.5 735.0,261.5 735.2,259.8 735.5,260.0 735.8,260.9 736.0,260.9 736.2,261.6 736.5,260.8 736.8,262.1 737.0,260.0 737.2,259.6 737.5,259.8 737.8,259.7 738.0,260.2 738.2,259.6 738.5,261.4 738.8,261.4 739.0,261.8 739.2,259.9 739.5,259.2 739.8,260.0 740.0,260.4 740.2,259.9 740.5,260.8 740.8,260.8 741.0,260.7 741.2,259.6 741.5,261.1" fill="none" stroke="#231815" stroke-width="1.5" stroke-linejoin="round"/><path d="M475.6,98.4 L478.9,102.2 L475.6,106.0 L472.3,102.2Z" fill="#231815"/><path d="M496.3,91.4 L499.6,95.2 L496.3,99.0 L493.0,95.2Z" fill="#231815"/><path d="M530.5,26.0 L533.8,29.8 L530.5,33.6 L527.2,29.8Z" fill="#231815"/><path d="M563.2,56.7 L566.5,60.5 L563.2,64.3 L559.9,60.5Z" fill="#231815"/><path d="M592.2,77.7 L595.5,81.5 L592.2,85.3 L588.9,81.5Z" fill="#231815"/><path d="M645.3,89.0 L648.6,92.8 L645.3,96.6 L642.0,92.8Z" fill="#231815"/><path d="M716.2,74.9 L719.5,78.7 L716.2,82.5 L712.9,78.7Z" fill="#231815"/><circle cx="475.7" cy="241.2" r="2.8" fill="#231815"/><circle cx="534.5" cy="221.3" r="2.8" fill="#231815"/><circle cx="566.4" cy="231.6" r="2.8" fill="#231815"/><circle cx="578.5" cy="240.3" r="2.8" fill="#231815"/><circle cx="683.3" cy="242.4" r="2.8" fill="#231815"/><circle cx="700.7" cy="251.6" r="2.8" fill="#231815"/><circle cx="706.0" cy="251.6" r="2.8" fill="#231815"/><circle cx="730.3" cy="250.4" r="2.8" fill="#231815"/><g fill="#231815"><path d="M24.4,18.1 C25.4,16.1 28.2,15.1 31.2,15.1 C36.6,15.1 39.7,17.2 39.7,21.2 L39.7,32.4 C39.7,33.6 40.2,34.1 41.0,34.1 C41.5,34.1 41.9,33.9 42.3,33.6 L42.6,34.2 C41.5,35.9 40.0,36.9 38.0,36.9 C35.8,36.9 34.4,35.9 33.9,34.3 C32.3,36.1 30.2,36.9 27.8,36.9 C24.4,36.9 22.2,35.0 22.2,31.9 C22.2,28.0 26.0,26.0 33.4,23.6 L33.4,20.9 C33.4,18.3 32.4,17.3 30.4,17.3 C29.0,17.3 28.0,17.7 27.3,18.5 C27.7,19.0 28.0,19.8 28.0,20.7 C28.0,22.5 26.7,23.8 25.0,23.8 C23.3,23.8 22.2,22.6 22.2,21.1 C22.2,19.9 23.0,18.9 24.4,18.1 Z M33.4,25.2 C29.6,26.6 28.3,28.4 28.3,31.0 C28.3,33.2 29.4,34.4 31.0,34.4 C32.0,34.4 32.8,34.0 33.4,33.3 Z" fill-rule="evenodd"/><text transform="translate(416.95,37.30) scale(1.000,1)" font-family="Liberation Serif" font-weight="bold" font-size="45.51">b</text><text transform="translate(245.45,124.10) scale(0.914,1)" font-family="Liberation Serif" font-weight="bold" font-size="13.85" stroke="#231815" stroke-width="0.3">Pyrite</text><text transform="translate(287.52,124.10) scale(0.999,1)" font-family="Liberation Serif" font-weight="bold" font-size="13.85" stroke="#231815" stroke-width="0.3">impure</text><text transform="translate(16.78,208.70) scale(0.860,1)" font-family="Liberation Serif" font-weight="bold" font-size="12.62" stroke="#231815" stroke-width="0.4"><tspan fill="#e8191b" stroke="#e8191b" stroke-width="0.15">Pyrite</tspan> PDF#42-1340</text><text transform="translate(16.66,242.80) scale(0.891,1)" font-family="Liberation Serif" font-weight="bold" font-size="12.15" stroke="#231815" stroke-width="0.4"><tspan fill="#e8191b" stroke="#e8191b" stroke-width="0.15">S</tspan> PDF#08-0247</text><text transform="translate(164.48,305.50) scale(0.923,1)" font-family="Liberation Serif" font-weight="bold" font-size="14.20">2θ/degree</text><text transform="translate(550.95,306.60) scale(0.990,1)" font-family="Liberation Serif" font-weight="bold" font-size="13.77">2θ/degree</text><text transform="translate(411.61,86.40) scale(0.991,1)" font-family="Liberation Serif" font-weight="bold" font-size="14.70" stroke="#231815" stroke-width="0.25">Fe:S=1:4</text><text transform="translate(414.81,161.70) scale(1.004,1)" font-family="Liberation Serif" font-weight="bold" font-size="14.55" stroke="#231815" stroke-width="0.25">Fe:S=1:2</text><text transform="translate(412.31,238.60) scale(0.976,1)" font-family="Liberation Serif" font-weight="bold" font-size="14.70" stroke="#231815" stroke-width="0.25">Fe:S=1:1</text><text transform="translate(648.10,30.80) scale(1.018,1)" font-family="Liberation Serif" font-weight="bold" font-size="14.78" stroke="#231815" stroke-width="0.2">- pyrite</text><text transform="translate(647.50,51.50) scale(1.008,1)" font-family="Liberation Serif" font-weight="bold" font-size="14.93" stroke="#231815" stroke-width="0.2">- marcasite</text><text transform="translate(-0.63,285.80) scale(0.976,1)" font-family="Liberation Sans" font-weight="bold" font-size="11.43" stroke="#231815" stroke-width="0.3">20</text><text transform="translate(401.87,285.80) scale(0.976,1)" font-family="Liberation Sans" font-weight="bold" font-size="11.43" stroke="#231815" stroke-width="0.3">20</text><text transform="translate(67.28,285.80) scale(0.967,1)" font-family="Liberation Sans" font-weight="bold" font-size="11.43" stroke="#231815" stroke-width="0.3">30</text><text transform="translate(468.72,285.80) scale(0.967,1)" font-family="Liberation Sans" font-weight="bold" font-size="11.43" stroke="#231815" stroke-width="0.3">30</text><text transform="translate(135.08,285.80) scale(0.967,1)" font-family="Liberation Sans" font-weight="bold" font-size="11.43" stroke="#231815" stroke-width="0.3">40</text><text transform="translate(535.46,285.80) scale(0.967,1)" font-family="Liberation Sans" font-weight="bold" font-size="11.43" stroke="#231815" stroke-width="0.3">40</text><text transform="translate(202.77,285.80) scale(0.976,1)" font-family="Liberation Sans" font-weight="bold" font-size="11.43" stroke="#231815" stroke-width="0.3">50</text><text transform="translate(602.09,285.80) scale(0.976,1)" font-family="Liberation Sans" font-weight="bold" font-size="11.43" stroke="#231815" stroke-width="0.3">50</text><text transform="translate(270.45,285.80) scale(0.985,1)" font-family="Liberation Sans" font-weight="bold" font-size="11.43" stroke="#231815" stroke-width="0.3">60</text><text transform="translate(668.71,285.80) scale(0.985,1)" font-family="Liberation Sans" font-weight="bold" font-size="11.43" stroke="#231815" stroke-width="0.3">60</text><text transform="translate(338.25,285.80) scale(0.985,1)" font-family="Liberation Sans" font-weight="bold" font-size="11.43" stroke="#231815" stroke-width="0.3">70</text><text transform="translate(735.45,285.80) scale(0.985,1)" font-family="Liberation Sans" font-weight="bold" font-size="11.43" stroke="#231815" stroke-width="0.3">70</text><path d="M284.8,114.8 Q280.3,120.6 284.8,126.4" fill="none" stroke="#231815" stroke-width="1.0"/><path d="M332.9,114.2 Q337.4,120 332.9,125.8" fill="none" stroke="#231815" stroke-width="1.0"/><path d="M638.9,22.4 L642.3,26.6 L638.9,30.8 L635.5,26.6Z" fill="#231815"/><circle cx="636.8" cy="47.3" r="2.8" fill="#231815"/></g></svg>
</body></html>
